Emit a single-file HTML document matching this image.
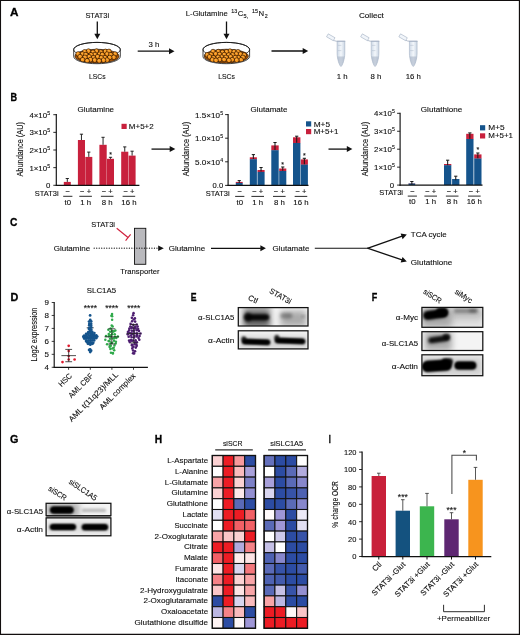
<!DOCTYPE html>
<html><head><meta charset="utf-8"><title>Figure</title>
<style>html,body{margin:0;padding:0;background:#fff}svg{display:block}text{font-family:"Liberation Sans", sans-serif;fill:#111;stroke:#111;stroke-width:0.12px}</style>
</head><body>
<svg width="520" height="635" viewBox="0 0 520 635">
<defs>
<linearGradient id="tubeg" x1="0" x2="1" y1="0" y2="0"><stop offset="0" stop-color="#cdd8e6"/><stop offset="0.5" stop-color="#f3f7fb"/><stop offset="1" stop-color="#cbd6e4"/></linearGradient>
<filter id="blur1" x="-30%" y="-80%" width="160%" height="260%"><feGaussianBlur stdDeviation="0.9"/></filter>
<filter id="blur2" x="-30%" y="-80%" width="160%" height="260%"><feGaussianBlur stdDeviation="1.6"/></filter>
<filter id="blur3" x="-50%" y="-100%" width="200%" height="300%"><feGaussianBlur stdDeviation="3"/></filter>
</defs>
<rect x="0" y="0" width="520" height="635" fill="#fff"/>
<text transform="translate(10.00,15.90) scale(1.042,1)" font-size="11.3" font-weight="bold" style="stroke:#000;stroke-width:0.3px;fill:#000">A</text>
<text x="97.30" y="17.70" font-size="7.8" text-anchor="middle" textLength="23.8" lengthAdjust="spacingAndGlyphs">STAT3i</text>
<line x1="97.30" y1="21.50" x2="97.30" y2="34.20" stroke="#111" stroke-width="1.3" />
<polygon points="97.30,39.20 94.30,33.70 100.30,33.70" fill="#111"/>
<path d="M73.70,49.60 L73.70,56.50 A23.3,7.2 0 0 0 120.30,56.50 L120.30,49.60 A23.3,7.2 0 0 1 73.70,49.60 Z" fill="#fff" stroke="none"/>
<ellipse cx="97.00" cy="49.60" rx="23.3" ry="7.2" fill="#fff" stroke="#111" stroke-width="0.8"/>
<clipPath id="dc97"><path d="M74.10,46.60 L74.10,56.50 A22.900000000000002,6.9 0 0 0 119.90,56.50 L119.90,46.60 Z"/></clipPath>
<g clip-path="url(#dc97)">
<ellipse cx="97.00" cy="56.20" rx="22.1" ry="7.0" fill="#a55508" stroke="#1e0d00" stroke-width="0.6"/>
<circle cx="88.52" cy="51.16" r="2.35" fill="#f8951d" stroke="#1e0d00" stroke-width="0.65"/>
<circle cx="88.02" cy="50.56" r="1.0" fill="#fbab3c"/>
<circle cx="96.59" cy="51.20" r="2.35" fill="#f8951d" stroke="#1e0d00" stroke-width="0.65"/>
<circle cx="96.09" cy="50.60" r="1.0" fill="#fbab3c"/>
<circle cx="105.44" cy="51.44" r="2.35" fill="#f8951d" stroke="#1e0d00" stroke-width="0.65"/>
<circle cx="104.94" cy="50.84" r="1.0" fill="#fbab3c"/>
<circle cx="108.97" cy="51.45" r="2.35" fill="#f8951d" stroke="#1e0d00" stroke-width="0.65"/>
<circle cx="108.47" cy="50.85" r="1.0" fill="#fbab3c"/>
<circle cx="84.66" cy="51.90" r="2.35" fill="#f8951d" stroke="#1e0d00" stroke-width="0.65"/>
<circle cx="84.16" cy="51.30" r="1.0" fill="#fbab3c"/>
<circle cx="100.83" cy="52.04" r="2.35" fill="#f8951d" stroke="#1e0d00" stroke-width="0.65"/>
<circle cx="100.33" cy="51.44" r="1.0" fill="#fbab3c"/>
<circle cx="93.07" cy="52.24" r="2.35" fill="#f8951d" stroke="#1e0d00" stroke-width="0.65"/>
<circle cx="92.57" cy="51.64" r="1.0" fill="#fbab3c"/>
<circle cx="78.15" cy="53.99" r="2.35" fill="#f8951d" stroke="#1e0d00" stroke-width="0.65"/>
<circle cx="77.65" cy="53.39" r="1.0" fill="#fbab3c"/>
<circle cx="82.55" cy="54.05" r="2.35" fill="#f8951d" stroke="#1e0d00" stroke-width="0.65"/>
<circle cx="82.05" cy="53.45" r="1.0" fill="#fbab3c"/>
<circle cx="115.14" cy="54.10" r="2.35" fill="#f8951d" stroke="#1e0d00" stroke-width="0.65"/>
<circle cx="114.64" cy="53.50" r="1.0" fill="#fbab3c"/>
<circle cx="107.16" cy="54.18" r="2.35" fill="#f8951d" stroke="#1e0d00" stroke-width="0.65"/>
<circle cx="106.66" cy="53.58" r="1.0" fill="#fbab3c"/>
<circle cx="99.42" cy="54.24" r="2.35" fill="#f8951d" stroke="#1e0d00" stroke-width="0.65"/>
<circle cx="98.92" cy="53.64" r="1.0" fill="#fbab3c"/>
<circle cx="94.99" cy="54.53" r="2.35" fill="#f8951d" stroke="#1e0d00" stroke-width="0.65"/>
<circle cx="94.49" cy="53.93" r="1.0" fill="#fbab3c"/>
<circle cx="85.88" cy="54.64" r="2.35" fill="#f8951d" stroke="#1e0d00" stroke-width="0.65"/>
<circle cx="85.38" cy="54.04" r="1.0" fill="#fbab3c"/>
<circle cx="102.42" cy="54.72" r="2.35" fill="#f8951d" stroke="#1e0d00" stroke-width="0.65"/>
<circle cx="101.92" cy="54.12" r="1.0" fill="#fbab3c"/>
<circle cx="110.79" cy="54.73" r="2.35" fill="#f8951d" stroke="#1e0d00" stroke-width="0.65"/>
<circle cx="110.29" cy="54.13" r="1.0" fill="#fbab3c"/>
<circle cx="91.04" cy="54.77" r="2.35" fill="#f8951d" stroke="#1e0d00" stroke-width="0.65"/>
<circle cx="90.54" cy="54.17" r="1.0" fill="#fbab3c"/>
<circle cx="80.14" cy="56.71" r="2.35" fill="#f8951d" stroke="#1e0d00" stroke-width="0.65"/>
<circle cx="79.64" cy="56.11" r="1.0" fill="#fbab3c"/>
<circle cx="97.61" cy="56.76" r="2.35" fill="#f8951d" stroke="#1e0d00" stroke-width="0.65"/>
<circle cx="97.11" cy="56.16" r="1.0" fill="#fbab3c"/>
<circle cx="89.14" cy="56.77" r="2.35" fill="#f8951d" stroke="#1e0d00" stroke-width="0.65"/>
<circle cx="88.64" cy="56.17" r="1.0" fill="#fbab3c"/>
<circle cx="113.81" cy="57.27" r="2.35" fill="#f8951d" stroke="#1e0d00" stroke-width="0.65"/>
<circle cx="113.31" cy="56.67" r="1.0" fill="#fbab3c"/>
<circle cx="84.98" cy="57.36" r="2.35" fill="#f8951d" stroke="#1e0d00" stroke-width="0.65"/>
<circle cx="84.48" cy="56.76" r="1.0" fill="#fbab3c"/>
<circle cx="109.65" cy="57.49" r="2.35" fill="#f8951d" stroke="#1e0d00" stroke-width="0.65"/>
<circle cx="109.15" cy="56.89" r="1.0" fill="#fbab3c"/>
<circle cx="104.91" cy="57.64" r="2.35" fill="#f8951d" stroke="#1e0d00" stroke-width="0.65"/>
<circle cx="104.41" cy="57.04" r="1.0" fill="#fbab3c"/>
<circle cx="93.51" cy="57.73" r="2.35" fill="#f8951d" stroke="#1e0d00" stroke-width="0.65"/>
<circle cx="93.01" cy="57.13" r="1.0" fill="#fbab3c"/>
<circle cx="101.34" cy="57.87" r="2.35" fill="#f8951d" stroke="#1e0d00" stroke-width="0.65"/>
<circle cx="100.84" cy="57.27" r="1.0" fill="#fbab3c"/>
<circle cx="90.54" cy="59.66" r="2.35" fill="#f8951d" stroke="#1e0d00" stroke-width="0.65"/>
<circle cx="90.04" cy="59.06" r="1.0" fill="#fbab3c"/>
<circle cx="82.67" cy="59.79" r="2.35" fill="#f8951d" stroke="#1e0d00" stroke-width="0.65"/>
<circle cx="82.17" cy="59.19" r="1.0" fill="#fbab3c"/>
<circle cx="107.10" cy="60.08" r="2.35" fill="#f8951d" stroke="#1e0d00" stroke-width="0.65"/>
<circle cx="106.60" cy="59.48" r="1.0" fill="#fbab3c"/>
<circle cx="94.75" cy="60.10" r="2.35" fill="#f8951d" stroke="#1e0d00" stroke-width="0.65"/>
<circle cx="94.25" cy="59.50" r="1.0" fill="#fbab3c"/>
<circle cx="103.54" cy="60.21" r="2.35" fill="#f8951d" stroke="#1e0d00" stroke-width="0.65"/>
<circle cx="103.04" cy="59.61" r="1.0" fill="#fbab3c"/>
<circle cx="87.16" cy="60.78" r="2.35" fill="#f8951d" stroke="#1e0d00" stroke-width="0.65"/>
<circle cx="86.66" cy="60.18" r="1.0" fill="#fbab3c"/>
<circle cx="99.16" cy="60.79" r="2.35" fill="#f8951d" stroke="#1e0d00" stroke-width="0.65"/>
<circle cx="98.66" cy="60.19" r="1.0" fill="#fbab3c"/>
</g>
<path d="M73.70,49.60 L73.70,56.50 A23.3,7.2 0 0 0 120.30,56.50 L120.30,49.60" fill="none" stroke="#111" stroke-width="0.8"/>
<path d="M73.70,49.60 A23.3,7.2 0 0 1 120.30,49.60" fill="none" stroke="#111" stroke-width="0.8"/>
<text x="97.30" y="79.20" font-size="7.8" text-anchor="middle" textLength="16.6" lengthAdjust="spacingAndGlyphs">LSCs</text>
<text x="154.00" y="46.80" font-size="7.8" text-anchor="middle">3 h</text>
<line x1="137.70" y1="51.20" x2="169.50" y2="51.20" stroke="#111" stroke-width="1.3" />
<polygon points="174.50,51.20 169.00,54.20 169.00,48.20" fill="#111"/>
<text x="185.80" y="16.20" font-size="7.8" textLength="41.9" lengthAdjust="spacingAndGlyphs">L-Glutamine</text>
<text x="231.30" y="13.10" font-size="5.3" textLength="6.0" lengthAdjust="spacingAndGlyphs">13</text>
<text x="237.70" y="16.00" font-size="7.8" textLength="5.6" lengthAdjust="spacingAndGlyphs">C</text>
<text x="243.60" y="18.10" font-size="5.3" textLength="4.6" lengthAdjust="spacingAndGlyphs">5,</text>
<text x="252.00" y="13.10" font-size="5.3" textLength="6.0" lengthAdjust="spacingAndGlyphs">15</text>
<text x="258.40" y="16.00" font-size="7.8" textLength="5.6" lengthAdjust="spacingAndGlyphs">N</text>
<text x="264.70" y="18.10" font-size="5.3">2</text>
<line x1="226.50" y1="21.50" x2="226.50" y2="34.20" stroke="#111" stroke-width="1.3" />
<polygon points="226.50,39.20 223.50,33.70 229.50,33.70" fill="#111"/>
<path d="M203.00,49.60 L203.00,56.50 A23.3,7.2 0 0 0 249.60,56.50 L249.60,49.60 A23.3,7.2 0 0 1 203.00,49.60 Z" fill="#fff" stroke="none"/>
<ellipse cx="226.30" cy="49.60" rx="23.3" ry="7.2" fill="#fff" stroke="#111" stroke-width="0.8"/>
<clipPath id="dc226"><path d="M203.40,46.60 L203.40,56.50 A22.900000000000002,6.9 0 0 0 249.20,56.50 L249.20,46.60 Z"/></clipPath>
<g clip-path="url(#dc226)">
<ellipse cx="226.30" cy="56.20" rx="22.1" ry="7.0" fill="#a55508" stroke="#1e0d00" stroke-width="0.6"/>
<circle cx="230.02" cy="51.22" r="2.35" fill="#f8951d" stroke="#1e0d00" stroke-width="0.65"/>
<circle cx="229.52" cy="50.62" r="1.0" fill="#fbab3c"/>
<circle cx="213.06" cy="51.61" r="2.35" fill="#f8951d" stroke="#1e0d00" stroke-width="0.65"/>
<circle cx="212.56" cy="51.01" r="1.0" fill="#fbab3c"/>
<circle cx="218.28" cy="51.64" r="2.35" fill="#f8951d" stroke="#1e0d00" stroke-width="0.65"/>
<circle cx="217.78" cy="51.04" r="1.0" fill="#fbab3c"/>
<circle cx="234.17" cy="51.84" r="2.35" fill="#f8951d" stroke="#1e0d00" stroke-width="0.65"/>
<circle cx="233.67" cy="51.24" r="1.0" fill="#fbab3c"/>
<circle cx="238.11" cy="51.86" r="2.35" fill="#f8951d" stroke="#1e0d00" stroke-width="0.65"/>
<circle cx="237.61" cy="51.26" r="1.0" fill="#fbab3c"/>
<circle cx="226.58" cy="51.88" r="2.35" fill="#f8951d" stroke="#1e0d00" stroke-width="0.65"/>
<circle cx="226.08" cy="51.28" r="1.0" fill="#fbab3c"/>
<circle cx="222.46" cy="52.25" r="2.35" fill="#f8951d" stroke="#1e0d00" stroke-width="0.65"/>
<circle cx="221.96" cy="51.65" r="1.0" fill="#fbab3c"/>
<circle cx="215.77" cy="53.92" r="2.35" fill="#f8951d" stroke="#1e0d00" stroke-width="0.65"/>
<circle cx="215.27" cy="53.32" r="1.0" fill="#fbab3c"/>
<circle cx="236.47" cy="54.07" r="2.35" fill="#f8951d" stroke="#1e0d00" stroke-width="0.65"/>
<circle cx="235.97" cy="53.47" r="1.0" fill="#fbab3c"/>
<circle cx="240.55" cy="54.18" r="2.35" fill="#f8951d" stroke="#1e0d00" stroke-width="0.65"/>
<circle cx="240.05" cy="53.58" r="1.0" fill="#fbab3c"/>
<circle cx="219.71" cy="54.43" r="2.35" fill="#f8951d" stroke="#1e0d00" stroke-width="0.65"/>
<circle cx="219.21" cy="53.83" r="1.0" fill="#fbab3c"/>
<circle cx="210.99" cy="54.47" r="2.35" fill="#f8951d" stroke="#1e0d00" stroke-width="0.65"/>
<circle cx="210.49" cy="53.87" r="1.0" fill="#fbab3c"/>
<circle cx="224.31" cy="54.65" r="2.35" fill="#f8951d" stroke="#1e0d00" stroke-width="0.65"/>
<circle cx="223.81" cy="54.05" r="1.0" fill="#fbab3c"/>
<circle cx="207.28" cy="54.95" r="2.35" fill="#f8951d" stroke="#1e0d00" stroke-width="0.65"/>
<circle cx="206.78" cy="54.35" r="1.0" fill="#fbab3c"/>
<circle cx="232.72" cy="54.97" r="2.35" fill="#f8951d" stroke="#1e0d00" stroke-width="0.65"/>
<circle cx="232.22" cy="54.37" r="1.0" fill="#fbab3c"/>
<circle cx="244.26" cy="54.99" r="2.35" fill="#f8951d" stroke="#1e0d00" stroke-width="0.65"/>
<circle cx="243.76" cy="54.39" r="1.0" fill="#fbab3c"/>
<circle cx="228.70" cy="55.03" r="2.35" fill="#f8951d" stroke="#1e0d00" stroke-width="0.65"/>
<circle cx="228.20" cy="54.43" r="1.0" fill="#fbab3c"/>
<circle cx="209.60" cy="56.92" r="2.35" fill="#f8951d" stroke="#1e0d00" stroke-width="0.65"/>
<circle cx="209.10" cy="56.32" r="1.0" fill="#fbab3c"/>
<circle cx="230.69" cy="56.97" r="2.35" fill="#f8951d" stroke="#1e0d00" stroke-width="0.65"/>
<circle cx="230.19" cy="56.37" r="1.0" fill="#fbab3c"/>
<circle cx="221.73" cy="57.17" r="2.35" fill="#f8951d" stroke="#1e0d00" stroke-width="0.65"/>
<circle cx="221.23" cy="56.57" r="1.0" fill="#fbab3c"/>
<circle cx="218.13" cy="57.27" r="2.35" fill="#f8951d" stroke="#1e0d00" stroke-width="0.65"/>
<circle cx="217.63" cy="56.67" r="1.0" fill="#fbab3c"/>
<circle cx="226.04" cy="57.40" r="2.35" fill="#f8951d" stroke="#1e0d00" stroke-width="0.65"/>
<circle cx="225.54" cy="56.80" r="1.0" fill="#fbab3c"/>
<circle cx="242.96" cy="57.45" r="2.35" fill="#f8951d" stroke="#1e0d00" stroke-width="0.65"/>
<circle cx="242.46" cy="56.85" r="1.0" fill="#fbab3c"/>
<circle cx="238.40" cy="57.64" r="2.35" fill="#f8951d" stroke="#1e0d00" stroke-width="0.65"/>
<circle cx="237.90" cy="57.04" r="1.0" fill="#fbab3c"/>
<circle cx="235.19" cy="57.66" r="2.35" fill="#f8951d" stroke="#1e0d00" stroke-width="0.65"/>
<circle cx="234.69" cy="57.06" r="1.0" fill="#fbab3c"/>
<circle cx="213.61" cy="57.89" r="2.35" fill="#f8951d" stroke="#1e0d00" stroke-width="0.65"/>
<circle cx="213.11" cy="57.29" r="1.0" fill="#fbab3c"/>
<circle cx="219.80" cy="59.48" r="2.35" fill="#f8951d" stroke="#1e0d00" stroke-width="0.65"/>
<circle cx="219.30" cy="58.88" r="1.0" fill="#fbab3c"/>
<circle cx="224.12" cy="59.52" r="2.35" fill="#f8951d" stroke="#1e0d00" stroke-width="0.65"/>
<circle cx="223.62" cy="58.92" r="1.0" fill="#fbab3c"/>
<circle cx="232.20" cy="59.66" r="2.35" fill="#f8951d" stroke="#1e0d00" stroke-width="0.65"/>
<circle cx="231.70" cy="59.06" r="1.0" fill="#fbab3c"/>
<circle cx="241.16" cy="59.88" r="2.35" fill="#f8951d" stroke="#1e0d00" stroke-width="0.65"/>
<circle cx="240.66" cy="59.28" r="1.0" fill="#fbab3c"/>
<circle cx="212.40" cy="59.94" r="2.35" fill="#f8951d" stroke="#1e0d00" stroke-width="0.65"/>
<circle cx="211.90" cy="59.34" r="1.0" fill="#fbab3c"/>
<circle cx="236.72" cy="60.15" r="2.35" fill="#f8951d" stroke="#1e0d00" stroke-width="0.65"/>
<circle cx="236.22" cy="59.55" r="1.0" fill="#fbab3c"/>
<circle cx="228.95" cy="60.31" r="2.35" fill="#f8951d" stroke="#1e0d00" stroke-width="0.65"/>
<circle cx="228.45" cy="59.71" r="1.0" fill="#fbab3c"/>
<circle cx="216.02" cy="60.32" r="2.35" fill="#f8951d" stroke="#1e0d00" stroke-width="0.65"/>
<circle cx="215.52" cy="59.72" r="1.0" fill="#fbab3c"/>
</g>
<path d="M203.00,49.60 L203.00,56.50 A23.3,7.2 0 0 0 249.60,56.50 L249.60,49.60" fill="none" stroke="#111" stroke-width="0.8"/>
<path d="M203.00,49.60 A23.3,7.2 0 0 1 249.60,49.60" fill="none" stroke="#111" stroke-width="0.8"/>
<text x="226.50" y="79.20" font-size="7.8" text-anchor="middle" textLength="16.6" lengthAdjust="spacingAndGlyphs">LSCs</text>
<line x1="271.50" y1="51.00" x2="303.20" y2="51.00" stroke="#111" stroke-width="1.3" />
<polygon points="308.20,51.00 302.70,54.00 302.70,48.00" fill="#111"/>
<text x="371.40" y="17.70" font-size="7.8" text-anchor="middle" textLength="25.0" lengthAdjust="spacingAndGlyphs">Collect</text>
<g transform="translate(337.10,41.20)">
<path d="M0,0 L7.7,0 L7.7,12 C7.7,17.5 5.55,24.3 3.85,25.4 C2.1500000000000004,24.3 0,17.5 0,12 Z" fill="url(#tubeg)" stroke="#98a6ba" stroke-width="0.5"/>
<path d="M0.35,15.2 L7.3500000000000005,15.2 C7.1000000000000005,19 5.45,24 3.85,25 C2.25,24 0.6,19 0.35,15.2 Z" fill="#a9b4c6" opacity="0.6"/>
<rect x="-0.5" y="-0.45" width="8.7" height="1.0" fill="#a7b3c5"/>
<line x1="0.8" y1="4.2" x2="4.2" y2="4.2" stroke="#a3b0c3" stroke-width="0.4"/><line x1="0.8" y1="9.4" x2="4.2" y2="9.4" stroke="#a3b0c3" stroke-width="0.4"/>
<path d="M-0.4,0 L-2.2,-0.3 L-4,-1.2" stroke="#98a6ba" stroke-width="0.7" fill="none"/>
<rect x="-11.6" y="-3.9" width="7.8" height="3.4" fill="#f1f5fa" stroke="#98a6ba" stroke-width="0.5" transform="rotate(30 -3.8 -0.5)"/>
</g>
<g transform="translate(371.20,41.20)">
<path d="M0,0 L7.7,0 L7.7,12 C7.7,17.5 5.55,24.3 3.85,25.4 C2.1500000000000004,24.3 0,17.5 0,12 Z" fill="url(#tubeg)" stroke="#98a6ba" stroke-width="0.5"/>
<path d="M0.35,15.2 L7.3500000000000005,15.2 C7.1000000000000005,19 5.45,24 3.85,25 C2.25,24 0.6,19 0.35,15.2 Z" fill="#a9b4c6" opacity="0.6"/>
<rect x="-0.5" y="-0.45" width="8.7" height="1.0" fill="#a7b3c5"/>
<line x1="0.8" y1="4.2" x2="4.2" y2="4.2" stroke="#a3b0c3" stroke-width="0.4"/><line x1="0.8" y1="9.4" x2="4.2" y2="9.4" stroke="#a3b0c3" stroke-width="0.4"/>
<path d="M-0.4,0 L-2.2,-0.3 L-4,-1.2" stroke="#98a6ba" stroke-width="0.7" fill="none"/>
<rect x="-11.6" y="-3.9" width="7.8" height="3.4" fill="#f1f5fa" stroke="#98a6ba" stroke-width="0.5" transform="rotate(30 -3.8 -0.5)"/>
</g>
<g transform="translate(409.40,41.20)">
<path d="M0,0 L7.7,0 L7.7,12 C7.7,17.5 5.55,24.3 3.85,25.4 C2.1500000000000004,24.3 0,17.5 0,12 Z" fill="url(#tubeg)" stroke="#98a6ba" stroke-width="0.5"/>
<path d="M0.35,15.2 L7.3500000000000005,15.2 C7.1000000000000005,19 5.45,24 3.85,25 C2.25,24 0.6,19 0.35,15.2 Z" fill="#a9b4c6" opacity="0.6"/>
<rect x="-0.5" y="-0.45" width="8.7" height="1.0" fill="#a7b3c5"/>
<line x1="0.8" y1="4.2" x2="4.2" y2="4.2" stroke="#a3b0c3" stroke-width="0.4"/><line x1="0.8" y1="9.4" x2="4.2" y2="9.4" stroke="#a3b0c3" stroke-width="0.4"/>
<path d="M-0.4,0 L-2.2,-0.3 L-4,-1.2" stroke="#98a6ba" stroke-width="0.7" fill="none"/>
<rect x="-11.6" y="-3.9" width="7.8" height="3.4" fill="#f1f5fa" stroke="#98a6ba" stroke-width="0.5" transform="rotate(30 -3.8 -0.5)"/>
</g>
<text x="342.10" y="78.80" font-size="7.8" text-anchor="middle">1 h</text>
<text x="376.00" y="78.80" font-size="7.8" text-anchor="middle">8 h</text>
<text x="413.30" y="78.80" font-size="7.8" text-anchor="middle">16 h</text>
<text transform="translate(10.50,100.80) scale(0.809,1)" font-size="11.3" font-weight="bold" style="stroke:#000;stroke-width:0.3px;fill:#000">B</text>
<text x="95.80" y="111.70" font-size="7.8" text-anchor="middle" textLength="36.5" lengthAdjust="spacingAndGlyphs">Glutamine</text>
<line x1="53.30" y1="185.30" x2="56.30" y2="185.30" stroke="#111" stroke-width="0.9" />
<text x="50.30" y="188.30" font-size="7.8" text-anchor="end">0</text>
<line x1="53.30" y1="167.65" x2="56.30" y2="167.65" stroke="#111" stroke-width="0.9" />
<text x="47.10" y="170.65" font-size="7.8" text-anchor="end" textLength="17.7" lengthAdjust="spacingAndGlyphs">1×10</text>
<text x="47.30" y="167.65" font-size="5.2">5</text>
<line x1="53.30" y1="150.00" x2="56.30" y2="150.00" stroke="#111" stroke-width="0.9" />
<text x="47.10" y="153.00" font-size="7.8" text-anchor="end" textLength="17.7" lengthAdjust="spacingAndGlyphs">2×10</text>
<text x="47.30" y="150.00" font-size="5.2">5</text>
<line x1="53.30" y1="132.35" x2="56.30" y2="132.35" stroke="#111" stroke-width="0.9" />
<text x="47.10" y="135.35" font-size="7.8" text-anchor="end" textLength="17.7" lengthAdjust="spacingAndGlyphs">3×10</text>
<text x="47.30" y="132.35" font-size="5.2">5</text>
<line x1="53.30" y1="114.70" x2="56.30" y2="114.70" stroke="#111" stroke-width="0.9" />
<text x="47.10" y="117.70" font-size="7.8" text-anchor="end" textLength="17.7" lengthAdjust="spacingAndGlyphs">4×10</text>
<text x="47.30" y="114.70" font-size="5.2">5</text>
<text x="23.40" y="149.30" font-size="8.3" text-anchor="middle" transform="rotate(-90 23.40 149.30)" textLength="54.5" lengthAdjust="spacingAndGlyphs">Abundance (AU)</text>
<rect x="63.80" y="181.90" width="7.00" height="3.40" fill="#c8203c" />
<line x1="67.30" y1="178.50" x2="67.30" y2="181.90" stroke="#1a1a1a" stroke-width="0.95" />
<line x1="65.70" y1="178.50" x2="68.90" y2="178.50" stroke="#1a1a1a" stroke-width="0.95" />
<rect x="77.90" y="140.00" width="7.10" height="45.30" fill="#c8203c" />
<line x1="81.45" y1="134.20" x2="81.45" y2="140.00" stroke="#1a1a1a" stroke-width="0.95" />
<line x1="79.85" y1="134.20" x2="83.05" y2="134.20" stroke="#1a1a1a" stroke-width="0.95" />
<rect x="85.30" y="156.90" width="7.00" height="28.40" fill="#c8203c" />
<line x1="88.80" y1="152.10" x2="88.80" y2="156.90" stroke="#1a1a1a" stroke-width="0.95" />
<line x1="87.20" y1="152.10" x2="90.40" y2="152.10" stroke="#1a1a1a" stroke-width="0.95" />
<rect x="99.40" y="144.80" width="7.30" height="40.50" fill="#c8203c" />
<line x1="103.05" y1="137.30" x2="103.05" y2="144.80" stroke="#1a1a1a" stroke-width="0.95" />
<line x1="101.45" y1="137.30" x2="104.65" y2="137.30" stroke="#1a1a1a" stroke-width="0.95" />
<rect x="107.00" y="158.80" width="7.00" height="26.50" fill="#c8203c" />
<line x1="110.50" y1="157.30" x2="110.50" y2="158.80" stroke="#1a1a1a" stroke-width="0.95" />
<line x1="108.90" y1="157.30" x2="112.10" y2="157.30" stroke="#1a1a1a" stroke-width="0.95" />
<rect x="121.20" y="151.70" width="7.10" height="33.60" fill="#c8203c" />
<line x1="124.75" y1="146.90" x2="124.75" y2="151.70" stroke="#1a1a1a" stroke-width="0.95" />
<line x1="123.15" y1="146.90" x2="126.35" y2="146.90" stroke="#1a1a1a" stroke-width="0.95" />
<rect x="128.60" y="155.60" width="7.00" height="29.70" fill="#c8203c" />
<line x1="132.10" y1="151.20" x2="132.10" y2="155.60" stroke="#1a1a1a" stroke-width="0.95" />
<line x1="130.50" y1="151.20" x2="133.70" y2="151.20" stroke="#1a1a1a" stroke-width="0.95" />
<text x="110.50" y="157.20" font-size="7" text-anchor="middle">*</text>
<line x1="56.30" y1="114.10" x2="56.30" y2="185.85" stroke="#111" stroke-width="1.15" />
<line x1="55.75" y1="185.30" x2="139.40" y2="185.30" stroke="#111" stroke-width="1.15" />
<rect x="121.50" y="123.80" width="5.20" height="5.20" fill="#c8203c" />
<text x="128.80" y="129.20" font-size="7.8" textLength="24.9" lengthAdjust="spacingAndGlyphs">M+5+2</text>
<text x="58.60" y="195.60" font-size="7.8" text-anchor="end" textLength="23.8" lengthAdjust="spacingAndGlyphs">STAT3i</text>
<text x="67.80" y="194.20" font-size="7.8" text-anchor="middle" textLength="4.4" lengthAdjust="spacingAndGlyphs">−</text>
<line x1="63.20" y1="196.30" x2="72.40" y2="196.30" stroke="#111" stroke-width="0.9" />
<text x="67.80" y="204.60" font-size="7.8" text-anchor="middle">t0</text>
<text x="82.30" y="194.20" font-size="7.8" text-anchor="middle" textLength="4.4" lengthAdjust="spacingAndGlyphs">−</text>
<text x="88.90" y="194.20" font-size="7.8" text-anchor="middle" textLength="4.4" lengthAdjust="spacingAndGlyphs">+</text>
<line x1="79.30" y1="196.30" x2="91.90" y2="196.30" stroke="#111" stroke-width="0.9" />
<text x="85.60" y="204.60" font-size="7.8" text-anchor="middle">1 h</text>
<text x="103.90" y="194.20" font-size="7.8" text-anchor="middle" textLength="4.4" lengthAdjust="spacingAndGlyphs">−</text>
<text x="110.50" y="194.20" font-size="7.8" text-anchor="middle" textLength="4.4" lengthAdjust="spacingAndGlyphs">+</text>
<line x1="100.90" y1="196.30" x2="113.50" y2="196.30" stroke="#111" stroke-width="0.9" />
<text x="107.20" y="204.60" font-size="7.8" text-anchor="middle">8 h</text>
<text x="125.60" y="194.20" font-size="7.8" text-anchor="middle" textLength="4.4" lengthAdjust="spacingAndGlyphs">−</text>
<text x="132.20" y="194.20" font-size="7.8" text-anchor="middle" textLength="4.4" lengthAdjust="spacingAndGlyphs">+</text>
<line x1="122.60" y1="196.30" x2="135.20" y2="196.30" stroke="#111" stroke-width="0.9" />
<text x="128.90" y="204.60" font-size="7.8" text-anchor="middle">16 h</text>
<text x="269.00" y="111.70" font-size="7.8" text-anchor="middle" textLength="36.9" lengthAdjust="spacingAndGlyphs">Glutamate</text>
<line x1="225.10" y1="185.40" x2="228.10" y2="185.40" stroke="#111" stroke-width="0.9" />
<text x="223.10" y="188.40" font-size="7.8" text-anchor="end" textLength="10.5" lengthAdjust="spacingAndGlyphs">0.0</text>
<line x1="225.10" y1="161.80" x2="228.10" y2="161.80" stroke="#111" stroke-width="0.9" />
<text x="220.00" y="164.80" font-size="7.8" text-anchor="end" textLength="25.0" lengthAdjust="spacingAndGlyphs">5.0×10</text>
<text x="220.20" y="161.80" font-size="5.2">4</text>
<line x1="225.10" y1="138.20" x2="228.10" y2="138.20" stroke="#111" stroke-width="0.9" />
<text x="220.00" y="141.20" font-size="7.8" text-anchor="end" textLength="25.0" lengthAdjust="spacingAndGlyphs">1.0×10</text>
<text x="220.20" y="138.20" font-size="5.2">5</text>
<line x1="225.10" y1="114.60" x2="228.10" y2="114.60" stroke="#111" stroke-width="0.9" />
<text x="220.00" y="117.60" font-size="7.8" text-anchor="end" textLength="25.0" lengthAdjust="spacingAndGlyphs">1.5×10</text>
<text x="220.20" y="114.60" font-size="5.2">5</text>
<text x="189.20" y="149.00" font-size="8.3" text-anchor="middle" transform="rotate(-90 189.20 149.00)" textLength="54.5" lengthAdjust="spacingAndGlyphs">Abundance (AU)</text>
<rect x="235.80" y="181.90" width="6.90" height="1.20" fill="#c8203c" />
<rect x="235.80" y="182.90" width="6.90" height="2.50" fill="#15548c" />
<line x1="239.25" y1="180.60" x2="239.25" y2="183.10" stroke="#1a1a1a" stroke-width="1.05" />
<line x1="237.65" y1="180.60" x2="240.85" y2="180.60" stroke="#1a1a1a" stroke-width="1.05" />
<rect x="249.80" y="157.30" width="7.10" height="2.10" fill="#c8203c" />
<rect x="249.80" y="159.20" width="7.10" height="26.20" fill="#15548c" />
<line x1="253.35" y1="154.60" x2="253.35" y2="158.90" stroke="#1a1a1a" stroke-width="1.05" />
<line x1="251.75" y1="154.60" x2="254.95" y2="154.60" stroke="#1a1a1a" stroke-width="1.05" />
<rect x="257.50" y="170.00" width="7.10" height="2.10" fill="#c8203c" />
<rect x="257.50" y="171.90" width="7.10" height="13.50" fill="#15548c" />
<line x1="261.05" y1="167.50" x2="261.05" y2="171.60" stroke="#1a1a1a" stroke-width="1.05" />
<line x1="259.45" y1="167.50" x2="262.65" y2="167.50" stroke="#1a1a1a" stroke-width="1.05" />
<rect x="271.30" y="145.40" width="7.40" height="5.00" fill="#c8203c" />
<rect x="271.30" y="150.20" width="7.40" height="35.20" fill="#15548c" />
<line x1="275.00" y1="142.50" x2="275.00" y2="149.90" stroke="#1a1a1a" stroke-width="1.05" />
<line x1="273.40" y1="142.50" x2="276.60" y2="142.50" stroke="#1a1a1a" stroke-width="1.05" />
<rect x="279.20" y="168.50" width="7.10" height="2.70" fill="#c8203c" />
<rect x="279.20" y="171.00" width="7.10" height="14.40" fill="#15548c" />
<line x1="282.75" y1="167.00" x2="282.75" y2="170.70" stroke="#1a1a1a" stroke-width="1.05" />
<line x1="281.15" y1="167.00" x2="284.35" y2="167.00" stroke="#1a1a1a" stroke-width="1.05" />
<rect x="293.00" y="137.30" width="7.40" height="5.90" fill="#c8203c" />
<rect x="293.00" y="143.00" width="7.40" height="42.40" fill="#15548c" />
<line x1="296.70" y1="136.20" x2="296.70" y2="142.70" stroke="#1a1a1a" stroke-width="1.05" />
<line x1="295.10" y1="136.20" x2="298.30" y2="136.20" stroke="#1a1a1a" stroke-width="1.05" />
<rect x="300.80" y="159.40" width="7.10" height="5.40" fill="#c8203c" />
<rect x="300.80" y="164.60" width="7.10" height="20.80" fill="#15548c" />
<line x1="304.35" y1="158.30" x2="304.35" y2="164.30" stroke="#1a1a1a" stroke-width="1.05" />
<line x1="302.75" y1="158.30" x2="305.95" y2="158.30" stroke="#1a1a1a" stroke-width="1.05" />
<text x="282.70" y="166.50" font-size="7" text-anchor="middle">*</text>
<text x="304.30" y="158.00" font-size="7" text-anchor="middle">*</text>
<line x1="228.10" y1="114.00" x2="228.10" y2="185.95" stroke="#111" stroke-width="1.15" />
<line x1="227.55" y1="185.40" x2="308.50" y2="185.40" stroke="#111" stroke-width="1.15" />
<rect x="306.00" y="121.30" width="5.20" height="5.20" fill="#15548c" />
<text x="313.70" y="126.70" font-size="7.8" textLength="16.4" lengthAdjust="spacingAndGlyphs">M+5</text>
<rect x="306.00" y="129.00" width="5.20" height="5.20" fill="#c8203c" />
<text x="313.70" y="134.40" font-size="7.8" textLength="24.7" lengthAdjust="spacingAndGlyphs">M+5+1</text>
<text x="229.60" y="195.70" font-size="7.8" text-anchor="end" textLength="23.8" lengthAdjust="spacingAndGlyphs">STAT3i</text>
<text x="239.75" y="194.30" font-size="7.8" text-anchor="middle" textLength="4.4" lengthAdjust="spacingAndGlyphs">−</text>
<line x1="235.15" y1="196.40" x2="244.35" y2="196.40" stroke="#111" stroke-width="0.9" />
<text x="239.75" y="204.70" font-size="7.8" text-anchor="middle">t0</text>
<text x="254.40" y="194.30" font-size="7.8" text-anchor="middle" textLength="4.4" lengthAdjust="spacingAndGlyphs">−</text>
<text x="261.00" y="194.30" font-size="7.8" text-anchor="middle" textLength="4.4" lengthAdjust="spacingAndGlyphs">+</text>
<line x1="251.40" y1="196.40" x2="264.00" y2="196.40" stroke="#111" stroke-width="0.9" />
<text x="257.70" y="204.70" font-size="7.8" text-anchor="middle">1 h</text>
<text x="276.00" y="194.30" font-size="7.8" text-anchor="middle" textLength="4.4" lengthAdjust="spacingAndGlyphs">−</text>
<text x="282.60" y="194.30" font-size="7.8" text-anchor="middle" textLength="4.4" lengthAdjust="spacingAndGlyphs">+</text>
<line x1="273.00" y1="196.40" x2="285.60" y2="196.40" stroke="#111" stroke-width="0.9" />
<text x="279.30" y="204.70" font-size="7.8" text-anchor="middle">8 h</text>
<text x="297.65" y="194.30" font-size="7.8" text-anchor="middle" textLength="4.4" lengthAdjust="spacingAndGlyphs">−</text>
<text x="304.25" y="194.30" font-size="7.8" text-anchor="middle" textLength="4.4" lengthAdjust="spacingAndGlyphs">+</text>
<line x1="294.65" y1="196.40" x2="307.25" y2="196.40" stroke="#111" stroke-width="0.9" />
<text x="300.95" y="204.70" font-size="7.8" text-anchor="middle">16 h</text>
<text x="441.50" y="111.70" font-size="7.8" text-anchor="middle" textLength="41.4" lengthAdjust="spacingAndGlyphs">Glutathione</text>
<line x1="397.10" y1="185.10" x2="400.10" y2="185.10" stroke="#111" stroke-width="0.9" />
<text x="394.10" y="188.10" font-size="7.8" text-anchor="end">0</text>
<line x1="397.10" y1="167.15" x2="400.10" y2="167.15" stroke="#111" stroke-width="0.9" />
<text x="391.80" y="170.15" font-size="7.8" text-anchor="end" textLength="17.7" lengthAdjust="spacingAndGlyphs">1×10</text>
<text x="392.00" y="167.15" font-size="5.2">5</text>
<line x1="397.10" y1="149.20" x2="400.10" y2="149.20" stroke="#111" stroke-width="0.9" />
<text x="391.80" y="152.20" font-size="7.8" text-anchor="end" textLength="17.7" lengthAdjust="spacingAndGlyphs">2×10</text>
<text x="392.00" y="149.20" font-size="5.2">5</text>
<line x1="397.10" y1="131.25" x2="400.10" y2="131.25" stroke="#111" stroke-width="0.9" />
<text x="391.80" y="134.25" font-size="7.8" text-anchor="end" textLength="17.7" lengthAdjust="spacingAndGlyphs">3×10</text>
<text x="392.00" y="131.25" font-size="5.2">5</text>
<line x1="397.10" y1="113.30" x2="400.10" y2="113.30" stroke="#111" stroke-width="0.9" />
<text x="391.80" y="116.30" font-size="7.8" text-anchor="end" textLength="17.7" lengthAdjust="spacingAndGlyphs">4×10</text>
<text x="392.00" y="113.30" font-size="5.2">5</text>
<text x="368.00" y="149.00" font-size="8.3" text-anchor="middle" transform="rotate(-90 368.00 149.00)" textLength="54.5" lengthAdjust="spacingAndGlyphs">Abundance (AU)</text>
<rect x="408.50" y="183.30" width="6.70" height="0.40" fill="#c8203c" />
<rect x="408.50" y="183.50" width="6.70" height="1.60" fill="#15548c" />
<line x1="411.85" y1="181.50" x2="411.85" y2="184.50" stroke="#1a1a1a" stroke-width="1.05" />
<line x1="410.25" y1="181.50" x2="413.45" y2="181.50" stroke="#1a1a1a" stroke-width="1.05" />
<rect x="444.00" y="164.00" width="7.30" height="1.40" fill="#c8203c" />
<rect x="444.00" y="165.20" width="7.30" height="19.90" fill="#15548c" />
<line x1="447.65" y1="160.20" x2="447.65" y2="165.20" stroke="#1a1a1a" stroke-width="1.05" />
<line x1="446.05" y1="160.20" x2="449.25" y2="160.20" stroke="#1a1a1a" stroke-width="1.05" />
<rect x="452.10" y="179.00" width="7.30" height="0.20" fill="#c8203c" />
<rect x="452.10" y="179.00" width="7.30" height="6.10" fill="#15548c" />
<line x1="455.75" y1="176.20" x2="455.75" y2="180.20" stroke="#1a1a1a" stroke-width="1.05" />
<line x1="454.15" y1="176.20" x2="457.35" y2="176.20" stroke="#1a1a1a" stroke-width="1.05" />
<rect x="466.20" y="133.80" width="7.30" height="5.40" fill="#c8203c" />
<rect x="466.20" y="139.00" width="7.30" height="46.10" fill="#15548c" />
<line x1="469.85" y1="132.90" x2="469.85" y2="138.70" stroke="#1a1a1a" stroke-width="1.05" />
<line x1="468.25" y1="132.90" x2="471.45" y2="132.90" stroke="#1a1a1a" stroke-width="1.05" />
<rect x="474.20" y="154.40" width="7.30" height="4.30" fill="#c8203c" />
<rect x="474.20" y="158.50" width="7.30" height="26.60" fill="#15548c" />
<line x1="477.85" y1="153.00" x2="477.85" y2="158.20" stroke="#1a1a1a" stroke-width="1.05" />
<line x1="476.25" y1="153.00" x2="479.45" y2="153.00" stroke="#1a1a1a" stroke-width="1.05" />
<text x="477.80" y="152.00" font-size="7" text-anchor="middle">*</text>
<line x1="400.10" y1="112.80" x2="400.10" y2="185.65" stroke="#111" stroke-width="1.15" />
<line x1="399.55" y1="185.10" x2="482.50" y2="185.10" stroke="#111" stroke-width="1.15" />
<rect x="480.00" y="125.20" width="5.20" height="5.20" fill="#15548c" />
<text x="488.30" y="130.40" font-size="7.8" textLength="16.4" lengthAdjust="spacingAndGlyphs">M+5</text>
<rect x="480.00" y="133.30" width="5.20" height="5.20" fill="#c8203c" />
<text x="488.30" y="138.40" font-size="7.8" textLength="24.7" lengthAdjust="spacingAndGlyphs">M+5+1</text>
<text x="403.00" y="195.40" font-size="7.8" text-anchor="end" textLength="23.8" lengthAdjust="spacingAndGlyphs">STAT3i</text>
<text x="412.35" y="194.00" font-size="7.8" text-anchor="middle" textLength="4.4" lengthAdjust="spacingAndGlyphs">−</text>
<line x1="407.75" y1="196.10" x2="416.95" y2="196.10" stroke="#111" stroke-width="0.9" />
<text x="412.35" y="204.40" font-size="7.8" text-anchor="middle">t0</text>
<text x="427.40" y="194.00" font-size="7.8" text-anchor="middle" textLength="4.4" lengthAdjust="spacingAndGlyphs">−</text>
<text x="434.00" y="194.00" font-size="7.8" text-anchor="middle" textLength="4.4" lengthAdjust="spacingAndGlyphs">+</text>
<line x1="424.40" y1="196.10" x2="437.00" y2="196.10" stroke="#111" stroke-width="0.9" />
<text x="430.70" y="204.40" font-size="7.8" text-anchor="middle">1 h</text>
<text x="448.90" y="194.00" font-size="7.8" text-anchor="middle" textLength="4.4" lengthAdjust="spacingAndGlyphs">−</text>
<text x="455.50" y="194.00" font-size="7.8" text-anchor="middle" textLength="4.4" lengthAdjust="spacingAndGlyphs">+</text>
<line x1="445.90" y1="196.10" x2="458.50" y2="196.10" stroke="#111" stroke-width="0.9" />
<text x="452.20" y="204.40" font-size="7.8" text-anchor="middle">8 h</text>
<text x="471.05" y="194.00" font-size="7.8" text-anchor="middle" textLength="4.4" lengthAdjust="spacingAndGlyphs">−</text>
<text x="477.65" y="194.00" font-size="7.8" text-anchor="middle" textLength="4.4" lengthAdjust="spacingAndGlyphs">+</text>
<line x1="468.05" y1="196.10" x2="480.65" y2="196.10" stroke="#111" stroke-width="0.9" />
<text x="474.35" y="204.40" font-size="7.8" text-anchor="middle">16 h</text>
<line x1="151.50" y1="149.10" x2="170.20" y2="149.10" stroke="#111" stroke-width="1.3" />
<polygon points="175.30,149.10 169.70,152.10 169.70,146.10" fill="#111"/>
<line x1="328.50" y1="149.10" x2="347.30" y2="149.10" stroke="#111" stroke-width="1.3" />
<polygon points="352.40,149.10 346.80,152.10 346.80,146.10" fill="#111"/>
<text transform="translate(10.10,226.30) scale(0.907,1)" font-size="11.3" font-weight="bold" style="stroke:#000;stroke-width:0.3px;fill:#000">C</text>
<text x="53.70" y="250.70" font-size="7.8" textLength="36.5" lengthAdjust="spacingAndGlyphs">Glutamine</text>
<text x="91.20" y="226.80" font-size="7.8" textLength="23.8" lengthAdjust="spacingAndGlyphs">STAT3i</text>
<line x1="116.70" y1="228.20" x2="128.00" y2="237.50" stroke="#d0203c" stroke-width="1.15" />
<line x1="125.60" y1="240.60" x2="130.60" y2="234.40" stroke="#d0203c" stroke-width="1.15" />
<rect x="134.50" y="228.30" width="11.30" height="36.00" fill="#b9b9bd" stroke="#111" stroke-width="0.9" />
<line x1="94.20" y1="248.20" x2="158.50" y2="248.20" stroke="#111" stroke-width="1.25" stroke-dasharray="0.01 2.5" stroke-linecap="round"/>
<polygon points="163.8,248.2 158.2,245.4 158.2,251" fill="#111"/>
<text x="140.00" y="274.30" font-size="7.8" text-anchor="middle" textLength="39.3" lengthAdjust="spacingAndGlyphs">Transporter</text>
<text x="168.70" y="250.70" font-size="7.8" textLength="36.5" lengthAdjust="spacingAndGlyphs">Glutamine</text>
<line x1="211.00" y1="248.30" x2="260.90" y2="248.30" stroke="#111" stroke-width="1.3" />
<polygon points="265.90,248.30 260.40,251.30 260.40,245.30" fill="#111"/>
<text x="272.50" y="250.70" font-size="7.8" textLength="36.9" lengthAdjust="spacingAndGlyphs">Glutamate</text>
<line x1="314.80" y1="248.30" x2="367.70" y2="248.30" stroke="#111" stroke-width="1.1" />
<line x1="367.40" y1="248.40" x2="402.08" y2="236.16" stroke="#111" stroke-width="1.3" />
<polygon points="406.80,234.50 402.61,239.16 400.62,233.50" fill="#111"/>
<line x1="367.40" y1="248.20" x2="402.06" y2="259.90" stroke="#111" stroke-width="1.3" />
<polygon points="406.80,261.50 400.63,262.58 402.55,256.90" fill="#111"/>
<text x="410.80" y="237.00" font-size="7.8" textLength="35.78" lengthAdjust="spacingAndGlyphs">TCA cycle</text>
<text x="410.80" y="265.20" font-size="7.8" textLength="41.4" lengthAdjust="spacingAndGlyphs">Glutathione</text>
<text transform="translate(10.50,301.20) scale(0.956,1)" font-size="11.3" font-weight="bold" style="stroke:#000;stroke-width:0.3px;fill:#000">D</text>
<text x="101.40" y="293.20" font-size="7.8" text-anchor="middle" textLength="29.2" lengthAdjust="spacingAndGlyphs">SLC1A5</text>
<line x1="51.70" y1="367.30" x2="54.20" y2="367.30" stroke="#111" stroke-width="0.8" />
<text x="49.00" y="370.20" font-size="8" text-anchor="end">4</text>
<line x1="51.70" y1="354.34" x2="54.20" y2="354.34" stroke="#111" stroke-width="0.8" />
<text x="49.00" y="357.24" font-size="8" text-anchor="end">5</text>
<line x1="51.70" y1="341.38" x2="54.20" y2="341.38" stroke="#111" stroke-width="0.8" />
<text x="49.00" y="344.28" font-size="8" text-anchor="end">6</text>
<line x1="51.70" y1="328.42" x2="54.20" y2="328.42" stroke="#111" stroke-width="0.8" />
<text x="49.00" y="331.32" font-size="8" text-anchor="end">7</text>
<line x1="51.70" y1="315.46" x2="54.20" y2="315.46" stroke="#111" stroke-width="0.8" />
<text x="49.00" y="318.36" font-size="8" text-anchor="end">8</text>
<line x1="51.70" y1="302.50" x2="54.20" y2="302.50" stroke="#111" stroke-width="0.8" />
<text x="49.00" y="305.40" font-size="8" text-anchor="end">9</text>
<text x="36.80" y="334.60" font-size="8.2" text-anchor="middle" transform="rotate(-90 36.80 334.60)" textLength="54" lengthAdjust="spacingAndGlyphs">Log2 expression</text>
<line x1="68.60" y1="367.30" x2="68.60" y2="369.80" stroke="#111" stroke-width="0.8" />
<line x1="90.30" y1="367.30" x2="90.30" y2="369.80" stroke="#111" stroke-width="0.8" />
<line x1="111.90" y1="367.30" x2="111.90" y2="369.80" stroke="#111" stroke-width="0.8" />
<line x1="133.50" y1="367.30" x2="133.50" y2="369.80" stroke="#111" stroke-width="0.8" />
<circle cx="68.70" cy="345.79" r="1.35" fill="#e01b2f"/>
<circle cx="68.70" cy="351.10" r="1.35" fill="#e01b2f"/>
<circle cx="68.70" cy="356.02" r="1.35" fill="#e01b2f"/>
<circle cx="68.70" cy="359.52" r="1.35" fill="#e01b2f"/>
<circle cx="74.60" cy="359.52" r="1.35" fill="#e01b2f"/>
<circle cx="62.50" cy="362.12" r="1.35" fill="#e01b2f"/>
<line x1="68.70" y1="361.73" x2="68.70" y2="349.42" stroke="#222" stroke-width="0.8" />
<line x1="61.40" y1="355.64" x2="76.00" y2="355.64" stroke="#222" stroke-width="0.8" />
<line x1="65.30" y1="361.73" x2="72.10" y2="361.73" stroke="#222" stroke-width="0.8" />
<line x1="65.30" y1="349.42" x2="72.10" y2="349.42" stroke="#222" stroke-width="0.8" />
<line x1="90.20" y1="343.97" x2="90.20" y2="327.77" stroke="#222" stroke-width="0.8" />
<line x1="82.95" y1="336.20" x2="97.45" y2="336.20" stroke="#222" stroke-width="0.8" />
<line x1="86.70" y1="343.97" x2="93.70" y2="343.97" stroke="#222" stroke-width="0.8" />
<line x1="86.70" y1="327.77" x2="93.70" y2="327.77" stroke="#222" stroke-width="0.8" />
<circle cx="90.12" cy="315.43" r="1.4" fill="#15548c"/>
<circle cx="90.23" cy="319.92" r="1.4" fill="#15548c"/>
<circle cx="89.05" cy="321.55" r="1.4" fill="#15548c"/>
<circle cx="91.12" cy="321.30" r="1.4" fill="#15548c"/>
<circle cx="89.30" cy="323.89" r="1.4" fill="#15548c"/>
<circle cx="91.10" cy="323.64" r="1.4" fill="#15548c"/>
<circle cx="89.21" cy="325.48" r="1.4" fill="#15548c"/>
<circle cx="91.07" cy="325.48" r="1.4" fill="#15548c"/>
<circle cx="89.14" cy="328.31" r="1.4" fill="#15548c"/>
<circle cx="91.19" cy="327.41" r="1.4" fill="#15548c"/>
<circle cx="89.26" cy="329.19" r="1.4" fill="#15548c"/>
<circle cx="91.29" cy="329.70" r="1.4" fill="#15548c"/>
<circle cx="88.31" cy="332.25" r="1.4" fill="#15548c"/>
<circle cx="90.12" cy="331.07" r="1.4" fill="#15548c"/>
<circle cx="92.24" cy="331.92" r="1.4" fill="#15548c"/>
<circle cx="86.17" cy="333.78" r="1.4" fill="#15548c"/>
<circle cx="88.23" cy="333.04" r="1.4" fill="#15548c"/>
<circle cx="90.33" cy="333.05" r="1.4" fill="#15548c"/>
<circle cx="92.25" cy="333.97" r="1.4" fill="#15548c"/>
<circle cx="94.34" cy="333.07" r="1.4" fill="#15548c"/>
<circle cx="84.26" cy="335.60" r="1.4" fill="#15548c"/>
<circle cx="86.22" cy="335.65" r="1.4" fill="#15548c"/>
<circle cx="88.31" cy="334.73" r="1.4" fill="#15548c"/>
<circle cx="90.29" cy="335.47" r="1.4" fill="#15548c"/>
<circle cx="92.14" cy="334.87" r="1.4" fill="#15548c"/>
<circle cx="94.06" cy="335.23" r="1.4" fill="#15548c"/>
<circle cx="96.27" cy="335.43" r="1.4" fill="#15548c"/>
<circle cx="83.34" cy="336.74" r="1.4" fill="#15548c"/>
<circle cx="85.14" cy="337.37" r="1.4" fill="#15548c"/>
<circle cx="87.06" cy="337.25" r="1.4" fill="#15548c"/>
<circle cx="89.23" cy="337.38" r="1.4" fill="#15548c"/>
<circle cx="91.31" cy="337.00" r="1.4" fill="#15548c"/>
<circle cx="93.32" cy="337.01" r="1.4" fill="#15548c"/>
<circle cx="95.21" cy="336.64" r="1.4" fill="#15548c"/>
<circle cx="97.22" cy="336.60" r="1.4" fill="#15548c"/>
<circle cx="84.20" cy="338.58" r="1.4" fill="#15548c"/>
<circle cx="86.12" cy="338.69" r="1.4" fill="#15548c"/>
<circle cx="88.21" cy="338.56" r="1.4" fill="#15548c"/>
<circle cx="90.17" cy="338.52" r="1.4" fill="#15548c"/>
<circle cx="92.23" cy="338.44" r="1.4" fill="#15548c"/>
<circle cx="94.24" cy="338.54" r="1.4" fill="#15548c"/>
<circle cx="96.16" cy="338.21" r="1.4" fill="#15548c"/>
<circle cx="86.06" cy="340.88" r="1.4" fill="#15548c"/>
<circle cx="88.34" cy="340.67" r="1.4" fill="#15548c"/>
<circle cx="90.23" cy="340.60" r="1.4" fill="#15548c"/>
<circle cx="92.14" cy="340.49" r="1.4" fill="#15548c"/>
<circle cx="94.14" cy="340.45" r="1.4" fill="#15548c"/>
<circle cx="87.06" cy="342.15" r="1.4" fill="#15548c"/>
<circle cx="89.14" cy="342.59" r="1.4" fill="#15548c"/>
<circle cx="91.12" cy="342.70" r="1.4" fill="#15548c"/>
<circle cx="93.26" cy="342.84" r="1.4" fill="#15548c"/>
<circle cx="88.15" cy="343.81" r="1.4" fill="#15548c"/>
<circle cx="90.31" cy="344.69" r="1.4" fill="#15548c"/>
<circle cx="92.25" cy="343.74" r="1.4" fill="#15548c"/>
<circle cx="90.12" cy="349.38" r="1.4" fill="#15548c"/>
<circle cx="89.11" cy="349.99" r="1.4" fill="#15548c"/>
<circle cx="91.11" cy="350.68" r="1.4" fill="#15548c"/>
<circle cx="90.24" cy="352.03" r="1.4" fill="#15548c"/>
<circle cx="112.07" cy="314.08" r="1.25" fill="#2fa94a"/>
<circle cx="111.42" cy="315.84" r="1.25" fill="#2fa94a"/>
<circle cx="112.11" cy="316.17" r="1.25" fill="#2fa94a"/>
<circle cx="112.13" cy="319.64" r="1.25" fill="#2fa94a"/>
<circle cx="111.73" cy="325.45" r="1.25" fill="#2fa94a"/>
<circle cx="110.61" cy="328.42" r="1.25" fill="#2fa94a"/>
<circle cx="112.66" cy="326.46" r="1.25" fill="#2fa94a"/>
<circle cx="108.35" cy="329.85" r="1.25" fill="#2fa94a"/>
<circle cx="112.06" cy="330.91" r="1.25" fill="#2fa94a"/>
<circle cx="115.32" cy="330.50" r="1.25" fill="#2fa94a"/>
<circle cx="110.16" cy="331.87" r="1.25" fill="#2fa94a"/>
<circle cx="112.82" cy="331.74" r="1.25" fill="#2fa94a"/>
<circle cx="113.85" cy="331.21" r="1.25" fill="#2fa94a"/>
<circle cx="108.78" cy="334.03" r="1.25" fill="#2fa94a"/>
<circle cx="110.14" cy="335.19" r="1.25" fill="#2fa94a"/>
<circle cx="112.19" cy="334.36" r="1.25" fill="#2fa94a"/>
<circle cx="114.76" cy="334.25" r="1.25" fill="#2fa94a"/>
<circle cx="105.98" cy="336.07" r="1.25" fill="#2fa94a"/>
<circle cx="108.69" cy="336.19" r="1.25" fill="#2fa94a"/>
<circle cx="110.83" cy="336.52" r="1.25" fill="#2fa94a"/>
<circle cx="115.05" cy="336.70" r="1.25" fill="#2fa94a"/>
<circle cx="117.83" cy="336.52" r="1.25" fill="#2fa94a"/>
<circle cx="105.32" cy="339.83" r="1.25" fill="#2fa94a"/>
<circle cx="110.10" cy="338.82" r="1.25" fill="#2fa94a"/>
<circle cx="112.75" cy="338.44" r="1.25" fill="#2fa94a"/>
<circle cx="114.18" cy="338.36" r="1.25" fill="#2fa94a"/>
<circle cx="116.34" cy="338.04" r="1.25" fill="#2fa94a"/>
<circle cx="108.54" cy="341.09" r="1.25" fill="#2fa94a"/>
<circle cx="109.55" cy="341.17" r="1.25" fill="#2fa94a"/>
<circle cx="114.07" cy="340.72" r="1.25" fill="#2fa94a"/>
<circle cx="115.95" cy="341.63" r="1.25" fill="#2fa94a"/>
<circle cx="107.04" cy="344.37" r="1.25" fill="#2fa94a"/>
<circle cx="110.87" cy="343.16" r="1.25" fill="#2fa94a"/>
<circle cx="112.16" cy="342.65" r="1.25" fill="#2fa94a"/>
<circle cx="115.64" cy="343.53" r="1.25" fill="#2fa94a"/>
<circle cx="109.82" cy="345.70" r="1.25" fill="#2fa94a"/>
<circle cx="110.82" cy="345.65" r="1.25" fill="#2fa94a"/>
<circle cx="114.49" cy="345.62" r="1.25" fill="#2fa94a"/>
<circle cx="109.61" cy="347.09" r="1.25" fill="#2fa94a"/>
<circle cx="112.43" cy="348.46" r="1.25" fill="#2fa94a"/>
<circle cx="113.73" cy="347.71" r="1.25" fill="#2fa94a"/>
<circle cx="110.35" cy="349.04" r="1.25" fill="#2fa94a"/>
<circle cx="114.20" cy="350.27" r="1.25" fill="#2fa94a"/>
<circle cx="110.95" cy="352.72" r="1.25" fill="#2fa94a"/>
<circle cx="112.94" cy="353.03" r="1.25" fill="#2fa94a"/>
<circle cx="112.87" cy="353.56" r="1.25" fill="#2fa94a"/>
<line x1="111.80" y1="343.97" x2="111.80" y2="328.81" stroke="#222" stroke-width="0.8" />
<line x1="104.55" y1="336.84" x2="119.05" y2="336.84" stroke="#222" stroke-width="0.8" />
<line x1="108.30" y1="343.97" x2="115.30" y2="343.97" stroke="#222" stroke-width="0.8" />
<line x1="108.30" y1="328.81" x2="115.30" y2="328.81" stroke="#222" stroke-width="0.8" />
<circle cx="133.52" cy="313.16" r="1.3" fill="#4d1d70"/>
<circle cx="133.12" cy="315.29" r="1.3" fill="#4d1d70"/>
<circle cx="131.87" cy="317.87" r="1.3" fill="#4d1d70"/>
<circle cx="134.92" cy="318.39" r="1.3" fill="#4d1d70"/>
<circle cx="133.68" cy="319.57" r="1.3" fill="#4d1d70"/>
<circle cx="132.13" cy="321.31" r="1.3" fill="#4d1d70"/>
<circle cx="135.15" cy="321.58" r="1.3" fill="#4d1d70"/>
<circle cx="130.62" cy="323.90" r="1.3" fill="#4d1d70"/>
<circle cx="133.23" cy="324.84" r="1.3" fill="#4d1d70"/>
<circle cx="136.76" cy="324.47" r="1.3" fill="#4d1d70"/>
<circle cx="130.35" cy="326.46" r="1.3" fill="#4d1d70"/>
<circle cx="131.88" cy="327.22" r="1.3" fill="#4d1d70"/>
<circle cx="135.31" cy="326.63" r="1.3" fill="#4d1d70"/>
<circle cx="137.61" cy="326.61" r="1.3" fill="#4d1d70"/>
<circle cx="129.37" cy="328.56" r="1.3" fill="#4d1d70"/>
<circle cx="131.47" cy="328.13" r="1.3" fill="#4d1d70"/>
<circle cx="134.17" cy="328.33" r="1.3" fill="#4d1d70"/>
<circle cx="135.64" cy="328.39" r="1.3" fill="#4d1d70"/>
<circle cx="138.14" cy="329.04" r="1.3" fill="#4d1d70"/>
<circle cx="129.17" cy="330.33" r="1.3" fill="#4d1d70"/>
<circle cx="131.95" cy="330.79" r="1.3" fill="#4d1d70"/>
<circle cx="133.95" cy="330.69" r="1.3" fill="#4d1d70"/>
<circle cx="136.79" cy="330.20" r="1.3" fill="#4d1d70"/>
<circle cx="138.96" cy="331.11" r="1.3" fill="#4d1d70"/>
<circle cx="127.91" cy="331.98" r="1.3" fill="#4d1d70"/>
<circle cx="129.78" cy="332.93" r="1.3" fill="#4d1d70"/>
<circle cx="131.81" cy="333.35" r="1.3" fill="#4d1d70"/>
<circle cx="134.41" cy="333.25" r="1.3" fill="#4d1d70"/>
<circle cx="136.88" cy="333.40" r="1.3" fill="#4d1d70"/>
<circle cx="140.52" cy="333.55" r="1.3" fill="#4d1d70"/>
<circle cx="127.75" cy="334.33" r="1.3" fill="#4d1d70"/>
<circle cx="130.71" cy="335.53" r="1.3" fill="#4d1d70"/>
<circle cx="132.35" cy="334.19" r="1.3" fill="#4d1d70"/>
<circle cx="134.47" cy="335.86" r="1.3" fill="#4d1d70"/>
<circle cx="137.05" cy="335.09" r="1.3" fill="#4d1d70"/>
<circle cx="139.55" cy="335.89" r="1.3" fill="#4d1d70"/>
<circle cx="128.69" cy="336.81" r="1.3" fill="#4d1d70"/>
<circle cx="131.65" cy="337.22" r="1.3" fill="#4d1d70"/>
<circle cx="134.08" cy="337.53" r="1.3" fill="#4d1d70"/>
<circle cx="136.70" cy="336.57" r="1.3" fill="#4d1d70"/>
<circle cx="138.53" cy="337.90" r="1.3" fill="#4d1d70"/>
<circle cx="129.11" cy="340.58" r="1.3" fill="#4d1d70"/>
<circle cx="130.88" cy="340.17" r="1.3" fill="#4d1d70"/>
<circle cx="133.08" cy="340.57" r="1.3" fill="#4d1d70"/>
<circle cx="135.61" cy="340.23" r="1.3" fill="#4d1d70"/>
<circle cx="139.30" cy="339.78" r="1.3" fill="#4d1d70"/>
<circle cx="129.73" cy="342.11" r="1.3" fill="#4d1d70"/>
<circle cx="131.97" cy="340.81" r="1.3" fill="#4d1d70"/>
<circle cx="134.97" cy="342.22" r="1.3" fill="#4d1d70"/>
<circle cx="136.84" cy="342.22" r="1.3" fill="#4d1d70"/>
<circle cx="131.88" cy="344.91" r="1.3" fill="#4d1d70"/>
<circle cx="134.52" cy="344.30" r="1.3" fill="#4d1d70"/>
<circle cx="136.32" cy="344.56" r="1.3" fill="#4d1d70"/>
<circle cx="132.12" cy="345.50" r="1.3" fill="#4d1d70"/>
<circle cx="133.42" cy="346.69" r="1.3" fill="#4d1d70"/>
<circle cx="136.69" cy="345.84" r="1.3" fill="#4d1d70"/>
<circle cx="132.30" cy="348.41" r="1.3" fill="#4d1d70"/>
<circle cx="135.80" cy="347.60" r="1.3" fill="#4d1d70"/>
<circle cx="133.08" cy="350.55" r="1.3" fill="#4d1d70"/>
<circle cx="135.05" cy="351.26" r="1.3" fill="#4d1d70"/>
<circle cx="133.04" cy="353.32" r="1.3" fill="#4d1d70"/>
<circle cx="134.11" cy="353.41" r="1.3" fill="#4d1d70"/>
<line x1="133.80" y1="342.94" x2="133.80" y2="324.53" stroke="#222" stroke-width="0.8" />
<line x1="126.55" y1="333.60" x2="141.05" y2="333.60" stroke="#222" stroke-width="0.8" />
<line x1="130.30" y1="342.94" x2="137.30" y2="342.94" stroke="#222" stroke-width="0.8" />
<line x1="130.30" y1="324.53" x2="137.30" y2="324.53" stroke="#222" stroke-width="0.8" />
<text x="90.40" y="310.50" font-size="8.5" text-anchor="middle">****</text>
<text x="111.80" y="310.50" font-size="8.5" text-anchor="middle">****</text>
<text x="133.80" y="310.50" font-size="8.5" text-anchor="middle">****</text>
<line x1="54.20" y1="301.95" x2="54.20" y2="367.85" stroke="#111" stroke-width="1.15" />
<line x1="53.65" y1="367.30" x2="147.90" y2="367.30" stroke="#111" stroke-width="1.15" />
<text x="72.35" y="376.45" font-size="7.8" text-anchor="end" transform="rotate(-45 72.35 376.45)" textLength="15.3" lengthAdjust="spacingAndGlyphs">HSC</text>
<text x="93.60" y="376.45" font-size="7.8" text-anchor="end" transform="rotate(-45 93.60 376.45)" textLength="31.2" lengthAdjust="spacingAndGlyphs">AML CBF</text>
<text x="118.60" y="375.30" font-size="7.8" text-anchor="end" transform="rotate(-45 118.60 375.30)" textLength="66.4" lengthAdjust="spacingAndGlyphs">AML t(11q23)/MLL</text>
<text x="136.10" y="376.45" font-size="7.8" text-anchor="end" transform="rotate(-45 136.10 376.45)" textLength="47.6" lengthAdjust="spacingAndGlyphs">AML complex</text>
<text transform="translate(190.70,301.20) scale(0.770,1)" font-size="11.3" font-weight="bold" style="stroke:#000;stroke-width:0.3px;fill:#000">E</text>
<text x="247.60" y="299.60" font-size="7.8" transform="rotate(25 247.60 299.60)" textLength="9.6" lengthAdjust="spacingAndGlyphs">Ctl</text>
<text x="268.80" y="292.40" font-size="7.8" transform="rotate(30 268.80 292.40)" textLength="23.8" lengthAdjust="spacingAndGlyphs">STAT3i</text>
<clipPath id="bc1"><rect x="238.3" y="307.6" width="69.7" height="18.4"/></clipPath>
<rect x="238.30" y="307.60" width="69.70" height="18.40" fill="#f6f6f6" />
<g clip-path="url(#bc1)">
<rect x="243.30" y="307.60" width="27.00" height="20.00" fill="#000" opacity="0.5" filter="url(#blur3)"/>
<rect x="244.30" y="319.60" width="25.00" height="7.00" fill="#000" opacity="0.25" filter="url(#blur3)"/>
<rect x="280.30" y="310.60" width="26.00" height="16.00" fill="#000" opacity="0.3" filter="url(#blur3)"/>
<rect x="244.30" y="314.10" width="25.00" height="6.30" rx="3.15" fill="#000" opacity="0.85" filter="url(#blur2)" transform="rotate(0 256.80 317.25)"/>
<rect x="244.30" y="312.40" width="7.00" height="9.40" rx="4.70" fill="#000" opacity="0.7" filter="url(#blur2)" transform="rotate(0 247.80 317.10)"/>
<rect x="247.30" y="315.40" width="21.00" height="3.80" rx="1.90" fill="#000" opacity="0.6" filter="url(#blur1)" transform="rotate(0 257.80 317.30)"/>
<rect x="280.30" y="313.10" width="12.00" height="5.50" rx="2.75" fill="#000" opacity="0.28" filter="url(#blur2)" transform="rotate(0 286.30 315.85)"/>
<rect x="301.30" y="315.60" width="4.00" height="2.00" rx="1.00" fill="#000" opacity="0.3" filter="url(#blur2)" transform="rotate(0 303.30 316.60)"/>
</g>
<rect x="238.30" y="307.60" width="69.70" height="18.40" fill="none" stroke="#111" stroke-width="1.25" />
<clipPath id="bc2"><rect x="238.3" y="330.8" width="69.7" height="18.1"/></clipPath>
<rect x="238.30" y="330.80" width="69.70" height="18.10" fill="#f4f4f4" />
<g clip-path="url(#bc2)">
<rect x="238.30" y="335.80" width="70.00" height="14.00" fill="#000" opacity="0.12" filter="url(#blur3)"/>
<rect x="241.80" y="339.20" width="28.50" height="5.40" rx="2.70" fill="#000" opacity="1" filter="url(#blur1)" transform="rotate(2 256.05 341.90)"/>
<rect x="243.30" y="340.00" width="26.00" height="4.00" rx="2.00" fill="#000" opacity="1" filter="url(#blur1)" transform="rotate(2 256.30 342.00)"/>
<rect x="241.30" y="336.30" width="5.00" height="5.50" rx="2.75" fill="#000" opacity="0.8" filter="url(#blur1)" transform="rotate(0 243.80 339.05)"/>
<rect x="274.80" y="338.20" width="30.50" height="5.40" rx="2.70" fill="#000" opacity="1" filter="url(#blur1)" transform="rotate(2 290.05 340.90)"/>
<rect x="276.30" y="339.00" width="28.00" height="4.00" rx="2.00" fill="#000" opacity="1" filter="url(#blur1)" transform="rotate(2 290.30 341.00)"/>
<rect x="274.30" y="334.80" width="5.00" height="6.00" rx="3.00" fill="#000" opacity="0.8" filter="url(#blur1)" transform="rotate(0 276.80 337.80)"/>
</g>
<rect x="238.30" y="330.80" width="69.70" height="18.10" fill="none" stroke="#111" stroke-width="1.25" />
<text x="234.30" y="320.00" font-size="7.8" text-anchor="end" textLength="36.2" lengthAdjust="spacingAndGlyphs">α-SLC1A5</text>
<text x="234.30" y="342.50" font-size="7.8" text-anchor="end" textLength="26.2" lengthAdjust="spacingAndGlyphs">α-Actin</text>
<text transform="translate(371.80,301.20) scale(0.797,1)" font-size="11.3" font-weight="bold" style="stroke:#000;stroke-width:0.3px;fill:#000">F</text>
<text x="422.70" y="293.00" font-size="7.8" transform="rotate(33 422.70 293.00)" textLength="20" lengthAdjust="spacingAndGlyphs">siSCR</text>
<text x="454.20" y="293.00" font-size="7.8" transform="rotate(33 454.20 293.00)" textLength="19.2" lengthAdjust="spacingAndGlyphs">siMyc</text>
<clipPath id="bc3"><rect x="421.9" y="307.4" width="60.9" height="19.9"/></clipPath>
<rect x="421.90" y="307.40" width="60.90" height="19.90" fill="#f0f0f0" />
<g clip-path="url(#bc3)">
<rect x="421.90" y="307.40" width="30.00" height="20.00" fill="#000" opacity="0.3" filter="url(#blur3)"/>
<rect x="451.90" y="307.40" width="31.00" height="10.00" fill="#000" opacity="0.22" filter="url(#blur3)"/>
<rect x="451.90" y="315.40" width="31.00" height="12.00" fill="#000" opacity="0.08" filter="url(#blur3)"/>
<rect x="422.90" y="309.90" width="25.00" height="8.50" rx="4.25" fill="#000" opacity="1" filter="url(#blur2)" transform="rotate(-8 435.40 314.15)"/>
<rect x="424.90" y="311.40" width="22.00" height="6.00" rx="3.00" fill="#000" opacity="1" filter="url(#blur1)" transform="rotate(-8 435.90 314.40)"/>
<rect x="435.90" y="307.40" width="12.00" height="9.00" rx="4.50" fill="#000" opacity="0.9" filter="url(#blur1)" transform="rotate(0 441.90 311.90)"/>
<rect x="453.90" y="308.40" width="24.00" height="4.50" rx="2.25" fill="#000" opacity="0.3" filter="url(#blur2)" transform="rotate(0 465.90 310.65)"/>
<rect x="468.90" y="308.90" width="8.00" height="3.50" rx="1.75" fill="#000" opacity="0.3" filter="url(#blur2)" transform="rotate(0 472.90 310.65)"/>
</g>
<rect x="421.90" y="307.40" width="60.90" height="19.90" fill="none" stroke="#111" stroke-width="1.25" />
<clipPath id="bc4"><rect x="421.9" y="331.7" width="60.9" height="18.8"/></clipPath>
<rect x="421.90" y="331.70" width="60.90" height="18.80" fill="#f4f4f4" />
<g clip-path="url(#bc4)">
<rect x="424.90" y="331.70" width="27.00" height="19.00" fill="#000" opacity="0.3" filter="url(#blur3)"/>
<rect x="427.90" y="336.20" width="22.00" height="6.00" rx="3.00" fill="#000" opacity="0.8" filter="url(#blur2)" transform="rotate(-8 438.90 339.20)"/>
<rect x="429.90" y="337.20" width="19.00" height="4.00" rx="2.00" fill="#000" opacity="0.6" filter="url(#blur1)" transform="rotate(-8 439.40 339.20)"/>
<rect x="442.90" y="333.70" width="7.00" height="5.50" rx="2.75" fill="#000" opacity="0.7" filter="url(#blur1)" transform="rotate(0 446.40 336.45)"/>
</g>
<rect x="421.90" y="331.70" width="60.90" height="18.80" fill="none" stroke="#111" stroke-width="1.25" />
<clipPath id="bc5"><rect x="421.9" y="354.8" width="60.9" height="20.9"/></clipPath>
<rect x="421.90" y="354.80" width="60.90" height="20.90" fill="#f3f3f3" />
<g clip-path="url(#bc5)">
<rect x="421.90" y="356.80" width="61.00" height="19.00" fill="#000" opacity="0.15" filter="url(#blur3)"/>
<rect x="421.90" y="360.30" width="30.00" height="11.00" rx="5.50" fill="#000" opacity="1" filter="url(#blur1)" transform="rotate(-4 436.90 365.80)"/>
<rect x="422.90" y="361.30" width="28.00" height="9.00" rx="4.50" fill="#000" opacity="1" filter="url(#blur1)" transform="rotate(-4 436.90 365.80)"/>
<rect x="441.90" y="358.30" width="11.00" height="6.50" rx="3.25" fill="#000" opacity="0.9" filter="url(#blur1)" transform="rotate(0 447.40 361.55)"/>
<rect x="454.40" y="361.60" width="22.00" height="7.80" rx="3.90" fill="#000" opacity="1" filter="url(#blur1)" transform="rotate(0 465.40 365.50)"/>
<rect x="455.90" y="362.60" width="19.00" height="5.80" rx="2.90" fill="#000" opacity="1" filter="url(#blur1)" transform="rotate(0 465.40 365.50)"/>
</g>
<rect x="421.90" y="354.80" width="60.90" height="20.90" fill="none" stroke="#111" stroke-width="1.25" />
<text x="418.00" y="320.00" font-size="7.8" text-anchor="end" textLength="22.2" lengthAdjust="spacingAndGlyphs">α-Myc</text>
<text x="418.00" y="345.50" font-size="7.8" text-anchor="end" textLength="36.2" lengthAdjust="spacingAndGlyphs">α-SLC1A5</text>
<text x="418.00" y="368.80" font-size="7.8" text-anchor="end" textLength="26.2" lengthAdjust="spacingAndGlyphs">α-Actin</text>
<text transform="translate(10.10,443.30) scale(0.955,1)" font-size="11.3" font-weight="bold" style="stroke:#000;stroke-width:0.3px;fill:#000">G</text>
<text x="47.70" y="490.00" font-size="7.8" transform="rotate(33 47.70 490.00)" textLength="20" lengthAdjust="spacingAndGlyphs">siSCR</text>
<text x="68.20" y="483.00" font-size="7.8" transform="rotate(34 68.20 483.00)" textLength="32.2" lengthAdjust="spacingAndGlyphs">siSLC1A5</text>
<rect x="46.10" y="515.00" width="64.80" height="3.50" fill="#999" />
<clipPath id="bc6"><rect x="46.1" y="503.3" width="64.8" height="12.4"/></clipPath>
<rect x="46.10" y="503.30" width="64.80" height="12.40" fill="#f4f4f4" />
<g clip-path="url(#bc6)">
<rect x="46.10" y="503.30" width="33.00" height="13.00" fill="#000" opacity="0.3" filter="url(#blur3)"/>
<rect x="50.10" y="506.60" width="23.50" height="7.00" rx="3.50" fill="#000" opacity="1" filter="url(#blur1)" transform="rotate(0 61.85 510.10)"/>
<rect x="51.10" y="507.40" width="21.50" height="5.40" rx="2.70" fill="#000" opacity="1" filter="url(#blur1)" transform="rotate(0 61.85 510.10)"/>
<rect x="82.10" y="508.50" width="24.00" height="3.80" rx="1.90" fill="#000" opacity="0.22" filter="url(#blur1)" transform="rotate(0 94.10 510.40)"/>
</g>
<rect x="46.10" y="503.30" width="64.80" height="12.40" fill="none" stroke="#111" stroke-width="1.25" />
<clipPath id="bc7"><rect x="46.1" y="517.9" width="64.8" height="17.9"/></clipPath>
<rect x="46.10" y="517.90" width="64.80" height="17.90" fill="#f6f6f6" />
<g clip-path="url(#bc7)">
<rect x="46.10" y="520.90" width="65.00" height="13.00" fill="#000" opacity="0.1" filter="url(#blur3)"/>
<rect x="49.60" y="523.90" width="26.50" height="6.20" rx="3.10" fill="#000" opacity="1" filter="url(#blur1)" transform="rotate(0 62.85 527.00)"/>
<rect x="51.10" y="524.70" width="24.00" height="4.60" rx="2.30" fill="#000" opacity="1" filter="url(#blur1)" transform="rotate(0 63.10 527.00)"/>
<rect x="81.60" y="524.10" width="26.50" height="6.20" rx="3.10" fill="#000" opacity="1" filter="url(#blur1)" transform="rotate(0 94.85 527.20)"/>
<rect x="83.10" y="524.90" width="24.00" height="4.60" rx="2.30" fill="#000" opacity="1" filter="url(#blur1)" transform="rotate(0 95.10 527.20)"/>
</g>
<rect x="46.10" y="517.90" width="64.80" height="17.90" fill="none" stroke="#111" stroke-width="1.25" />
<text x="43.00" y="513.80" font-size="7.8" text-anchor="end" textLength="36.2" lengthAdjust="spacingAndGlyphs">α-SLC1A5</text>
<text x="43.00" y="532.00" font-size="7.8" text-anchor="end" textLength="26.2" lengthAdjust="spacingAndGlyphs">α-Actin</text>
<text transform="translate(154.70,443.40) scale(0.907,1)" font-size="11.3" font-weight="bold" style="stroke:#000;stroke-width:0.3px;fill:#000">H</text>
<rect x="212.30" y="455.50" width="10.80" height="10.80" fill="#fbd2d3" stroke="#111" stroke-width="1.05" />
<rect x="223.10" y="455.50" width="10.80" height="10.80" fill="#ed1c24" stroke="#111" stroke-width="1.05" />
<rect x="233.90" y="455.50" width="10.80" height="10.80" fill="#f7999c" stroke="#111" stroke-width="1.05" />
<rect x="244.70" y="455.50" width="10.80" height="10.80" fill="#2c4ca3" stroke="#111" stroke-width="1.05" />
<rect x="212.30" y="466.30" width="10.80" height="10.80" fill="#ffffff" stroke="#111" stroke-width="1.05" />
<rect x="223.10" y="466.30" width="10.80" height="10.80" fill="#ed1c24" stroke="#111" stroke-width="1.05" />
<rect x="233.90" y="466.30" width="10.80" height="10.80" fill="#fabbbd" stroke="#111" stroke-width="1.05" />
<rect x="244.70" y="466.30" width="10.80" height="10.80" fill="#a8a0da" stroke="#111" stroke-width="1.05" />
<rect x="212.30" y="477.10" width="10.80" height="10.80" fill="#f8a4a7" stroke="#111" stroke-width="1.05" />
<rect x="223.10" y="477.10" width="10.80" height="10.80" fill="#ed1c24" stroke="#111" stroke-width="1.05" />
<rect x="233.90" y="477.10" width="10.80" height="10.80" fill="#fbd2d3" stroke="#111" stroke-width="1.05" />
<rect x="244.70" y="477.10" width="10.80" height="10.80" fill="#7c80c7" stroke="#111" stroke-width="1.05" />
<rect x="212.30" y="487.90" width="10.80" height="10.80" fill="#fbd2d3" stroke="#111" stroke-width="1.05" />
<rect x="223.10" y="487.90" width="10.80" height="10.80" fill="#ed1c24" stroke="#111" stroke-width="1.05" />
<rect x="233.90" y="487.90" width="10.80" height="10.80" fill="#fde8e9" stroke="#111" stroke-width="1.05" />
<rect x="244.70" y="487.90" width="10.80" height="10.80" fill="#938fd1" stroke="#111" stroke-width="1.05" />
<rect x="212.30" y="498.70" width="10.80" height="10.80" fill="#ffffff" stroke="#111" stroke-width="1.05" />
<rect x="223.10" y="498.70" width="10.80" height="10.80" fill="#ed1c24" stroke="#111" stroke-width="1.05" />
<rect x="233.90" y="498.70" width="10.80" height="10.80" fill="#5a6ab7" stroke="#111" stroke-width="1.05" />
<rect x="244.70" y="498.70" width="10.80" height="10.80" fill="#2c4ca3" stroke="#111" stroke-width="1.05" />
<rect x="212.30" y="509.50" width="10.80" height="10.80" fill="#e2e0f3" stroke="#111" stroke-width="1.05" />
<rect x="223.10" y="509.50" width="10.80" height="10.80" fill="#ed1c24" stroke="#111" stroke-width="1.05" />
<rect x="233.90" y="509.50" width="10.80" height="10.80" fill="#ed1c24" stroke="#111" stroke-width="1.05" />
<rect x="244.70" y="509.50" width="10.80" height="10.80" fill="#f26066" stroke="#111" stroke-width="1.05" />
<rect x="212.30" y="520.30" width="10.80" height="10.80" fill="#ffffff" stroke="#111" stroke-width="1.05" />
<rect x="223.10" y="520.30" width="10.80" height="10.80" fill="#ed1c24" stroke="#111" stroke-width="1.05" />
<rect x="233.90" y="520.30" width="10.80" height="10.80" fill="#f26066" stroke="#111" stroke-width="1.05" />
<rect x="244.70" y="520.30" width="10.80" height="10.80" fill="#f26066" stroke="#111" stroke-width="1.05" />
<rect x="212.30" y="531.10" width="10.80" height="10.80" fill="#f8a4a7" stroke="#111" stroke-width="1.05" />
<rect x="223.10" y="531.10" width="10.80" height="10.80" fill="#fac6c8" stroke="#111" stroke-width="1.05" />
<rect x="233.90" y="531.10" width="10.80" height="10.80" fill="#fbd2d3" stroke="#111" stroke-width="1.05" />
<rect x="244.70" y="531.10" width="10.80" height="10.80" fill="#ed1c24" stroke="#111" stroke-width="1.05" />
<rect x="212.30" y="541.90" width="10.80" height="10.80" fill="#ed1c24" stroke="#111" stroke-width="1.05" />
<rect x="223.10" y="541.90" width="10.80" height="10.80" fill="#ed1c24" stroke="#111" stroke-width="1.05" />
<rect x="233.90" y="541.90" width="10.80" height="10.80" fill="#b1abde" stroke="#111" stroke-width="1.05" />
<rect x="244.70" y="541.90" width="10.80" height="10.80" fill="#f58287" stroke="#111" stroke-width="1.05" />
<rect x="212.30" y="552.70" width="10.80" height="10.80" fill="#f26066" stroke="#111" stroke-width="1.05" />
<rect x="223.10" y="552.70" width="10.80" height="10.80" fill="#ed1c24" stroke="#111" stroke-width="1.05" />
<rect x="233.90" y="552.70" width="10.80" height="10.80" fill="#feeded" stroke="#111" stroke-width="1.05" />
<rect x="244.70" y="552.70" width="10.80" height="10.80" fill="#fde4e5" stroke="#111" stroke-width="1.05" />
<rect x="212.30" y="563.50" width="10.80" height="10.80" fill="#fde4e5" stroke="#111" stroke-width="1.05" />
<rect x="223.10" y="563.50" width="10.80" height="10.80" fill="#ed1c24" stroke="#111" stroke-width="1.05" />
<rect x="233.90" y="563.50" width="10.80" height="10.80" fill="#d8d5ef" stroke="#111" stroke-width="1.05" />
<rect x="244.70" y="563.50" width="10.80" height="10.80" fill="#f4777c" stroke="#111" stroke-width="1.05" />
<rect x="212.30" y="574.30" width="10.80" height="10.80" fill="#f58287" stroke="#111" stroke-width="1.05" />
<rect x="223.10" y="574.30" width="10.80" height="10.80" fill="#ed1c24" stroke="#111" stroke-width="1.05" />
<rect x="233.90" y="574.30" width="10.80" height="10.80" fill="#fbd2d3" stroke="#111" stroke-width="1.05" />
<rect x="244.70" y="574.30" width="10.80" height="10.80" fill="#f8a4a7" stroke="#111" stroke-width="1.05" />
<rect x="212.30" y="585.10" width="10.80" height="10.80" fill="#fac6c8" stroke="#111" stroke-width="1.05" />
<rect x="223.10" y="585.10" width="10.80" height="10.80" fill="#ed1c24" stroke="#111" stroke-width="1.05" />
<rect x="233.90" y="585.10" width="10.80" height="10.80" fill="#fde4e5" stroke="#111" stroke-width="1.05" />
<rect x="244.70" y="585.10" width="10.80" height="10.80" fill="#f8a4a7" stroke="#111" stroke-width="1.05" />
<rect x="212.30" y="595.90" width="10.80" height="10.80" fill="#2c4ca3" stroke="#111" stroke-width="1.05" />
<rect x="223.10" y="595.90" width="10.80" height="10.80" fill="#ed1c24" stroke="#111" stroke-width="1.05" />
<rect x="233.90" y="595.90" width="10.80" height="10.80" fill="#d8d5ef" stroke="#111" stroke-width="1.05" />
<rect x="244.70" y="595.90" width="10.80" height="10.80" fill="#fabbbd" stroke="#111" stroke-width="1.05" />
<rect x="212.30" y="606.70" width="10.80" height="10.80" fill="#bbb6e2" stroke="#111" stroke-width="1.05" />
<rect x="223.10" y="606.70" width="10.80" height="10.80" fill="#f58287" stroke="#111" stroke-width="1.05" />
<rect x="233.90" y="606.70" width="10.80" height="10.80" fill="#fabbbd" stroke="#111" stroke-width="1.05" />
<rect x="244.70" y="606.70" width="10.80" height="10.80" fill="#2c4ca3" stroke="#111" stroke-width="1.05" />
<rect x="212.30" y="617.50" width="10.80" height="10.80" fill="#fef4f4" stroke="#111" stroke-width="1.05" />
<rect x="223.10" y="617.50" width="10.80" height="10.80" fill="#2c4ca3" stroke="#111" stroke-width="1.05" />
<rect x="233.90" y="617.50" width="10.80" height="10.80" fill="#fef8f8" stroke="#111" stroke-width="1.05" />
<rect x="244.70" y="617.50" width="10.80" height="10.80" fill="#9e96d6" stroke="#111" stroke-width="1.05" />
<rect x="212.30" y="455.50" width="43.20" height="172.80" fill="none" stroke="#111" stroke-width="1.3" />
<rect x="264.10" y="455.50" width="10.85" height="10.80" fill="#6571bc" stroke="#111" stroke-width="1.05" />
<rect x="274.95" y="455.50" width="10.85" height="10.80" fill="#2c4ca3" stroke="#111" stroke-width="1.05" />
<rect x="285.80" y="455.50" width="10.85" height="10.80" fill="#2c4ca3" stroke="#111" stroke-width="1.05" />
<rect x="296.65" y="455.50" width="10.85" height="10.80" fill="#ffffff" stroke="#111" stroke-width="1.05" />
<rect x="264.10" y="466.30" width="10.85" height="10.80" fill="#ffffff" stroke="#111" stroke-width="1.05" />
<rect x="274.95" y="466.30" width="10.85" height="10.80" fill="#2c4ca3" stroke="#111" stroke-width="1.05" />
<rect x="285.80" y="466.30" width="10.85" height="10.80" fill="#5a6ab7" stroke="#111" stroke-width="1.05" />
<rect x="296.65" y="466.30" width="10.85" height="10.80" fill="#b1abde" stroke="#111" stroke-width="1.05" />
<rect x="264.10" y="477.10" width="10.85" height="10.80" fill="#a8a0da" stroke="#111" stroke-width="1.05" />
<rect x="274.95" y="477.10" width="10.85" height="10.80" fill="#2c4ca3" stroke="#111" stroke-width="1.05" />
<rect x="285.80" y="477.10" width="10.85" height="10.80" fill="#5a6ab7" stroke="#111" stroke-width="1.05" />
<rect x="296.65" y="477.10" width="10.85" height="10.80" fill="#8787cc" stroke="#111" stroke-width="1.05" />
<rect x="264.10" y="487.90" width="10.85" height="10.80" fill="#d8d5ef" stroke="#111" stroke-width="1.05" />
<rect x="274.95" y="487.90" width="10.85" height="10.80" fill="#2c4ca3" stroke="#111" stroke-width="1.05" />
<rect x="285.80" y="487.90" width="10.85" height="10.80" fill="#3753a8" stroke="#111" stroke-width="1.05" />
<rect x="296.65" y="487.90" width="10.85" height="10.80" fill="#4e62b2" stroke="#111" stroke-width="1.05" />
<rect x="264.10" y="498.70" width="10.85" height="10.80" fill="#2c4ca3" stroke="#111" stroke-width="1.05" />
<rect x="274.95" y="498.70" width="10.85" height="10.80" fill="#2c4ca3" stroke="#111" stroke-width="1.05" />
<rect x="285.80" y="498.70" width="10.85" height="10.80" fill="#5a6ab7" stroke="#111" stroke-width="1.05" />
<rect x="296.65" y="498.70" width="10.85" height="10.80" fill="#8787cc" stroke="#111" stroke-width="1.05" />
<rect x="264.10" y="509.50" width="10.85" height="10.80" fill="#fffafb" stroke="#111" stroke-width="1.05" />
<rect x="274.95" y="509.50" width="10.85" height="10.80" fill="#9e96d6" stroke="#111" stroke-width="1.05" />
<rect x="285.80" y="509.50" width="10.85" height="10.80" fill="#2c4ca3" stroke="#111" stroke-width="1.05" />
<rect x="296.65" y="509.50" width="10.85" height="10.80" fill="#eceaf7" stroke="#111" stroke-width="1.05" />
<rect x="264.10" y="520.30" width="10.85" height="10.80" fill="#5a6ab7" stroke="#111" stroke-width="1.05" />
<rect x="274.95" y="520.30" width="10.85" height="10.80" fill="#9e96d6" stroke="#111" stroke-width="1.05" />
<rect x="285.80" y="520.30" width="10.85" height="10.80" fill="#2c4ca3" stroke="#111" stroke-width="1.05" />
<rect x="296.65" y="520.30" width="10.85" height="10.80" fill="#e2e0f3" stroke="#111" stroke-width="1.05" />
<rect x="264.10" y="531.10" width="10.85" height="10.80" fill="#ffffff" stroke="#111" stroke-width="1.05" />
<rect x="274.95" y="531.10" width="10.85" height="10.80" fill="#cecaea" stroke="#111" stroke-width="1.05" />
<rect x="285.80" y="531.10" width="10.85" height="10.80" fill="#2c4ca3" stroke="#111" stroke-width="1.05" />
<rect x="296.65" y="531.10" width="10.85" height="10.80" fill="#3753a8" stroke="#111" stroke-width="1.05" />
<rect x="264.10" y="541.90" width="10.85" height="10.80" fill="#c5c0e6" stroke="#111" stroke-width="1.05" />
<rect x="274.95" y="541.90" width="10.85" height="10.80" fill="#ffffff" stroke="#111" stroke-width="1.05" />
<rect x="285.80" y="541.90" width="10.85" height="10.80" fill="#2c4ca3" stroke="#111" stroke-width="1.05" />
<rect x="296.65" y="541.90" width="10.85" height="10.80" fill="#2c4ca3" stroke="#111" stroke-width="1.05" />
<rect x="264.10" y="552.70" width="10.85" height="10.80" fill="#4e62b2" stroke="#111" stroke-width="1.05" />
<rect x="274.95" y="552.70" width="10.85" height="10.80" fill="#8787cc" stroke="#111" stroke-width="1.05" />
<rect x="285.80" y="552.70" width="10.85" height="10.80" fill="#2c4ca3" stroke="#111" stroke-width="1.05" />
<rect x="296.65" y="552.70" width="10.85" height="10.80" fill="#2c4ca3" stroke="#111" stroke-width="1.05" />
<rect x="264.10" y="563.50" width="10.85" height="10.80" fill="#5a6ab7" stroke="#111" stroke-width="1.05" />
<rect x="274.95" y="563.50" width="10.85" height="10.80" fill="#3753a8" stroke="#111" stroke-width="1.05" />
<rect x="285.80" y="563.50" width="10.85" height="10.80" fill="#2c4ca3" stroke="#111" stroke-width="1.05" />
<rect x="296.65" y="563.50" width="10.85" height="10.80" fill="#435bad" stroke="#111" stroke-width="1.05" />
<rect x="264.10" y="574.30" width="10.85" height="10.80" fill="#4e62b2" stroke="#111" stroke-width="1.05" />
<rect x="274.95" y="574.30" width="10.85" height="10.80" fill="#435bad" stroke="#111" stroke-width="1.05" />
<rect x="285.80" y="574.30" width="10.85" height="10.80" fill="#2c4ca3" stroke="#111" stroke-width="1.05" />
<rect x="296.65" y="574.30" width="10.85" height="10.80" fill="#2c4ca3" stroke="#111" stroke-width="1.05" />
<rect x="264.10" y="585.10" width="10.85" height="10.80" fill="#5a6ab7" stroke="#111" stroke-width="1.05" />
<rect x="274.95" y="585.10" width="10.85" height="10.80" fill="#c5c0e6" stroke="#111" stroke-width="1.05" />
<rect x="285.80" y="585.10" width="10.85" height="10.80" fill="#3753a8" stroke="#111" stroke-width="1.05" />
<rect x="296.65" y="585.10" width="10.85" height="10.80" fill="#938fd1" stroke="#111" stroke-width="1.05" />
<rect x="264.10" y="595.90" width="10.85" height="10.80" fill="#f8a4a7" stroke="#111" stroke-width="1.05" />
<rect x="274.95" y="595.90" width="10.85" height="10.80" fill="#bbb6e2" stroke="#111" stroke-width="1.05" />
<rect x="285.80" y="595.90" width="10.85" height="10.80" fill="#2c4ca3" stroke="#111" stroke-width="1.05" />
<rect x="296.65" y="595.90" width="10.85" height="10.80" fill="#2c4ca3" stroke="#111" stroke-width="1.05" />
<rect x="264.10" y="606.70" width="10.85" height="10.80" fill="#ed1c24" stroke="#111" stroke-width="1.05" />
<rect x="274.95" y="606.70" width="10.85" height="10.80" fill="#ed1c24" stroke="#111" stroke-width="1.05" />
<rect x="285.80" y="606.70" width="10.85" height="10.80" fill="#fef8f8" stroke="#111" stroke-width="1.05" />
<rect x="296.65" y="606.70" width="10.85" height="10.80" fill="#fac6c8" stroke="#111" stroke-width="1.05" />
<rect x="264.10" y="617.50" width="10.85" height="10.80" fill="#ed1c24" stroke="#111" stroke-width="1.05" />
<rect x="274.95" y="617.50" width="10.85" height="10.80" fill="#ed1c24" stroke="#111" stroke-width="1.05" />
<rect x="285.80" y="617.50" width="10.85" height="10.80" fill="#ed1c24" stroke="#111" stroke-width="1.05" />
<rect x="296.65" y="617.50" width="10.85" height="10.80" fill="#ed1c24" stroke="#111" stroke-width="1.05" />
<rect x="264.10" y="455.50" width="43.40" height="172.80" fill="none" stroke="#111" stroke-width="1.3" />
<text x="208.10" y="462.90" font-size="7.8" text-anchor="end" textLength="40.9" lengthAdjust="spacingAndGlyphs">L-Aspartate</text>
<text x="208.10" y="473.70" font-size="7.8" text-anchor="end" textLength="33.2" lengthAdjust="spacingAndGlyphs">L-Alanine</text>
<text x="208.10" y="484.50" font-size="7.8" text-anchor="end" textLength="43.3" lengthAdjust="spacingAndGlyphs">L-Glutamate</text>
<text x="208.10" y="495.30" font-size="7.8" text-anchor="end" textLength="36.5" lengthAdjust="spacingAndGlyphs">Glutamine</text>
<text x="208.10" y="506.10" font-size="7.8" text-anchor="end" textLength="41.4" lengthAdjust="spacingAndGlyphs">Glutathione</text>
<text x="208.10" y="516.90" font-size="7.8" text-anchor="end" textLength="25.5" lengthAdjust="spacingAndGlyphs">Lactate</text>
<text x="208.10" y="527.70" font-size="7.8" text-anchor="end" textLength="33.7" lengthAdjust="spacingAndGlyphs">Succinate</text>
<text x="208.10" y="538.50" font-size="7.8" text-anchor="end" textLength="53.6" lengthAdjust="spacingAndGlyphs">2-Oxoglutarate</text>
<text x="208.10" y="549.30" font-size="7.8" text-anchor="end" textLength="24.2" lengthAdjust="spacingAndGlyphs">Citrate</text>
<text x="208.10" y="560.10" font-size="7.8" text-anchor="end" textLength="24.2" lengthAdjust="spacingAndGlyphs">Malate</text>
<text x="208.10" y="570.90" font-size="7.8" text-anchor="end" textLength="33.2" lengthAdjust="spacingAndGlyphs">Fumarate</text>
<text x="208.10" y="581.70" font-size="7.8" text-anchor="end" textLength="32.7" lengthAdjust="spacingAndGlyphs">Itaconate</text>
<text x="208.10" y="592.50" font-size="7.8" text-anchor="end" textLength="68.0" lengthAdjust="spacingAndGlyphs">2-Hydroxygulatrate</text>
<text x="208.10" y="603.30" font-size="7.8" text-anchor="end" textLength="64.7" lengthAdjust="spacingAndGlyphs">2-Oxoglutaramate</text>
<text x="208.10" y="614.10" font-size="7.8" text-anchor="end" textLength="47.1" lengthAdjust="spacingAndGlyphs">Oxaloacetate</text>
<text x="208.10" y="624.90" font-size="7.8" text-anchor="end" textLength="73.6" lengthAdjust="spacingAndGlyphs">Glutathione disulfide</text>
<text x="232.70" y="446.30" font-size="7.8" text-anchor="middle" textLength="19.6" lengthAdjust="spacingAndGlyphs">siSCR</text>
<line x1="215.20" y1="449.80" x2="252.80" y2="449.80" stroke="#333" stroke-width="1.15" />
<text x="286.70" y="446.30" font-size="7.8" text-anchor="middle" textLength="32.9" lengthAdjust="spacingAndGlyphs">siSLC1A5</text>
<line x1="268.10" y1="449.90" x2="306.00" y2="449.90" stroke="#333" stroke-width="1.15" />
<text transform="translate(328.70,443.40) scale(0.668,1)" font-size="11.3" font-weight="bold" style="stroke:#000;stroke-width:0.3px;fill:#000">I</text>
<line x1="359.10" y1="556.50" x2="362.10" y2="556.50" stroke="#111" stroke-width="0.9" />
<text x="356.40" y="559.40" font-size="8" text-anchor="end" textLength="4.2" lengthAdjust="spacingAndGlyphs">0</text>
<line x1="359.10" y1="539.10" x2="362.10" y2="539.10" stroke="#111" stroke-width="0.9" />
<text x="356.40" y="542.00" font-size="8" text-anchor="end" textLength="8.3" lengthAdjust="spacingAndGlyphs">20</text>
<line x1="359.10" y1="521.70" x2="362.10" y2="521.70" stroke="#111" stroke-width="0.9" />
<text x="356.40" y="524.60" font-size="8" text-anchor="end" textLength="8.3" lengthAdjust="spacingAndGlyphs">40</text>
<line x1="359.10" y1="504.30" x2="362.10" y2="504.30" stroke="#111" stroke-width="0.9" />
<text x="356.40" y="507.20" font-size="8" text-anchor="end" textLength="8.3" lengthAdjust="spacingAndGlyphs">60</text>
<line x1="359.10" y1="486.90" x2="362.10" y2="486.90" stroke="#111" stroke-width="0.9" />
<text x="356.40" y="489.80" font-size="8" text-anchor="end" textLength="8.3" lengthAdjust="spacingAndGlyphs">80</text>
<line x1="359.10" y1="469.50" x2="362.10" y2="469.50" stroke="#111" stroke-width="0.9" />
<text x="356.40" y="472.40" font-size="8" text-anchor="end" textLength="12.4" lengthAdjust="spacingAndGlyphs">100</text>
<line x1="359.10" y1="452.10" x2="362.10" y2="452.10" stroke="#111" stroke-width="0.9" />
<text x="356.40" y="455.00" font-size="8" text-anchor="end" textLength="12.4" lengthAdjust="spacingAndGlyphs">120</text>
<text x="337.80" y="504.40" font-size="8.3" text-anchor="middle" transform="rotate(-90 337.80 504.40)" textLength="46.5" lengthAdjust="spacingAndGlyphs">% change OCR</text>
<rect x="371.60" y="476.00" width="14.40" height="80.50" fill="#c8203a" />
<line x1="378.80" y1="473.20" x2="378.80" y2="476.00" stroke="#3a3a3a" stroke-width="0.85" />
<line x1="377.00" y1="473.20" x2="380.60" y2="473.20" stroke="#3a3a3a" stroke-width="0.85" />
<line x1="378.80" y1="556.50" x2="378.80" y2="559.50" stroke="#111" stroke-width="1.0" />
<rect x="395.60" y="510.70" width="14.40" height="45.80" fill="#14527f" />
<line x1="402.80" y1="499.70" x2="402.80" y2="510.70" stroke="#3a3a3a" stroke-width="0.85" />
<line x1="401.00" y1="499.70" x2="404.60" y2="499.70" stroke="#3a3a3a" stroke-width="0.85" />
<line x1="402.80" y1="556.50" x2="402.80" y2="559.50" stroke="#111" stroke-width="1.0" />
<rect x="419.80" y="506.30" width="14.40" height="50.20" fill="#3cb54e" />
<line x1="427.00" y1="493.40" x2="427.00" y2="506.30" stroke="#3a3a3a" stroke-width="0.85" />
<line x1="425.20" y1="493.40" x2="428.80" y2="493.40" stroke="#3a3a3a" stroke-width="0.85" />
<line x1="427.00" y1="556.50" x2="427.00" y2="559.50" stroke="#111" stroke-width="1.0" />
<rect x="444.30" y="519.30" width="14.40" height="37.20" fill="#5e2772" />
<line x1="451.50" y1="512.70" x2="451.50" y2="519.30" stroke="#3a3a3a" stroke-width="0.85" />
<line x1="449.70" y1="512.70" x2="453.30" y2="512.70" stroke="#3a3a3a" stroke-width="0.85" />
<line x1="451.50" y1="556.50" x2="451.50" y2="559.50" stroke="#111" stroke-width="1.0" />
<rect x="468.30" y="479.80" width="14.40" height="76.70" fill="#f7941e" />
<line x1="475.50" y1="467.40" x2="475.50" y2="479.80" stroke="#3a3a3a" stroke-width="0.85" />
<line x1="473.70" y1="467.40" x2="477.30" y2="467.40" stroke="#3a3a3a" stroke-width="0.85" />
<line x1="475.50" y1="556.50" x2="475.50" y2="559.50" stroke="#111" stroke-width="1.0" />
<text x="402.80" y="500.00" font-size="8.5" text-anchor="middle">***</text>
<text x="451.50" y="513.00" font-size="8.5" text-anchor="middle">***</text>
<path d="M451.9,494 V455.3 H476.4 V460.4" fill="none" stroke="#484848" stroke-width="1.05"/>
<text x="464.30" y="455.70" font-size="8.5" text-anchor="middle">*</text>
<line x1="362.10" y1="451.50" x2="362.10" y2="557.10" stroke="#111" stroke-width="1.25" />
<line x1="361.50" y1="556.50" x2="491.30" y2="556.50" stroke="#111" stroke-width="1.25" />
<text x="382.00" y="565.00" font-size="7.8" text-anchor="end" transform="rotate(-45 382.00 565.00)" textLength="9.6" lengthAdjust="spacingAndGlyphs">Ctl</text>
<text x="406.00" y="565.00" font-size="7.8" text-anchor="end" transform="rotate(-45 406.00 565.00)" textLength="44.1" lengthAdjust="spacingAndGlyphs">STAT3i -Glut</text>
<text x="430.20" y="565.00" font-size="7.8" text-anchor="end" transform="rotate(-45 430.20 565.00)" textLength="46" lengthAdjust="spacingAndGlyphs">STAT3i +Glut</text>
<text x="454.70" y="565.00" font-size="7.8" text-anchor="end" transform="rotate(-45 454.70 565.00)" textLength="44.1" lengthAdjust="spacingAndGlyphs">STAT3i -Glut</text>
<text x="478.70" y="565.00" font-size="7.8" text-anchor="end" transform="rotate(-45 478.70 565.00)" textLength="46" lengthAdjust="spacingAndGlyphs">STAT3i +Glut</text>
<path d="M443.6,604.8 V611.7 H484.4 V604.8" fill="none" stroke="#222" stroke-width="0.95"/>
<text x="463.60" y="621.40" font-size="7.8" text-anchor="middle" textLength="53.24" lengthAdjust="spacingAndGlyphs">+Permeabilizer</text>
<path d="M0,0 H520 V635 H0 Z M1.05,0.95 V633.85 H518.85 V0.95 Z" fill="#120e0e" fill-rule="evenodd"/>
</svg>
</body></html>
